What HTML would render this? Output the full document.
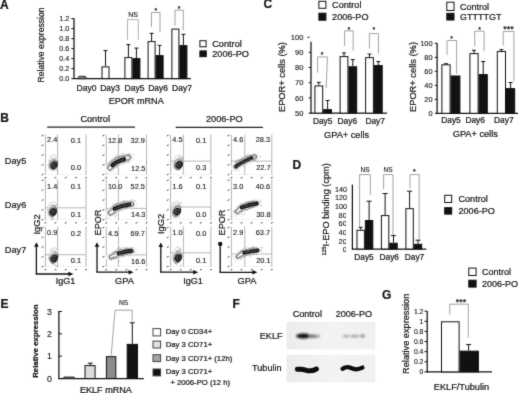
<!DOCTYPE html>
<html><head><meta charset="utf-8"><title>Figure</title>
<style>
html,body{margin:0;padding:0;background:#fff;}
body{width:520px;height:393px;overflow:hidden;font-family:"Liberation Sans", sans-serif;}
svg{display:block;}
text{stroke:#161616;stroke-width:0.22px;}
text.t{stroke-width:0.12px;}
</style></head><body>
<svg width="520" height="393" viewBox="0 0 520 393" font-family='"Liberation Sans", sans-serif'>
<defs><filter id="soft" x="0" y="0" width="520" height="393" filterUnits="userSpaceOnUse" color-interpolation-filters="sRGB"><feConvolveMatrix order="3" kernelMatrix="0.02 0.08 0.02 0.08 0.6 0.08 0.02 0.08 0.02" edgeMode="duplicate" preserveAlpha="false"/></filter></defs>
<rect width="520" height="393" fill="#fff"/>
<g filter="url(#soft)">
<text x="0" y="8.7" font-size="12" text-anchor="start" font-weight="bold" fill="#161616">A</text>
<line x1="74" y1="18.3" x2="74" y2="79.1" stroke="#111" stroke-width="1.25"/>
<line x1="73.5" y1="78.6" x2="191" y2="78.6" stroke="#111" stroke-width="1.25"/>
<line x1="71.3" y1="78.6" x2="74" y2="78.6" stroke="#111" stroke-width="1"/>
<text x="69.2" y="81.2" font-size="7.2" text-anchor="end" fill="#161616" class="t">0.0</text>
<line x1="71.3" y1="68.6" x2="74" y2="68.6" stroke="#111" stroke-width="1"/>
<text x="69.2" y="71.2" font-size="7.2" text-anchor="end" fill="#161616" class="t">0.2</text>
<line x1="71.3" y1="58.6" x2="74" y2="58.6" stroke="#111" stroke-width="1"/>
<text x="69.2" y="61.2" font-size="7.2" text-anchor="end" fill="#161616" class="t">0.4</text>
<line x1="71.3" y1="48.6" x2="74" y2="48.6" stroke="#111" stroke-width="1"/>
<text x="69.2" y="51.2" font-size="7.2" text-anchor="end" fill="#161616" class="t">0.6</text>
<line x1="71.3" y1="38.6" x2="74" y2="38.6" stroke="#111" stroke-width="1"/>
<text x="69.2" y="41.2" font-size="7.2" text-anchor="end" fill="#161616" class="t">0.8</text>
<line x1="71.3" y1="28.6" x2="74" y2="28.6" stroke="#111" stroke-width="1"/>
<text x="69.2" y="31.2" font-size="7.2" text-anchor="end" fill="#161616" class="t">1.0</text>
<line x1="71.3" y1="18.6" x2="74" y2="18.6" stroke="#111" stroke-width="1"/>
<text x="69.2" y="21.2" font-size="7.2" text-anchor="end" fill="#161616" class="t">1.2</text>
<text x="44.1" y="45" font-size="8.6" text-anchor="middle" fill="#161616" transform="rotate(-90 44.1 45)">Relative expression</text>
<rect x="78.4" y="76.3" width="7.6" height="2.4" fill="#8a8a8a" stroke="#1a1a1a" stroke-width="0.9" rx="1"/>
<rect x="102" y="66.85" width="7" height="11.75" fill="#fff" stroke="#111" stroke-width="1"/>
<line x1="105.5" y1="66.35" x2="105.5" y2="50.6" stroke="#111" stroke-width="1"/>
<line x1="103.5" y1="50.6" x2="107.5" y2="50.6" stroke="#111" stroke-width="1"/>
<rect x="124.9" y="57.6" width="7" height="21" fill="#fff" stroke="#111" stroke-width="1"/>
<line x1="128.4" y1="57.1" x2="128.4" y2="44.6" stroke="#111" stroke-width="1"/>
<line x1="126.4" y1="44.6" x2="130.4" y2="44.6" stroke="#111" stroke-width="1"/>
<rect x="132.9" y="58.6" width="7" height="20" fill="#111" stroke="#111" stroke-width="1"/>
<line x1="136.4" y1="58.1" x2="136.4" y2="48.1" stroke="#111" stroke-width="1"/>
<line x1="134.4" y1="48.1" x2="138.4" y2="48.1" stroke="#111" stroke-width="1"/>
<rect x="148.1" y="41.6" width="7" height="37" fill="#fff" stroke="#111" stroke-width="1"/>
<line x1="151.6" y1="41.1" x2="151.6" y2="33.35" stroke="#111" stroke-width="1"/>
<line x1="149.6" y1="33.35" x2="153.6" y2="33.35" stroke="#111" stroke-width="1"/>
<rect x="156.1" y="55.6" width="7" height="23" fill="#111" stroke="#111" stroke-width="1"/>
<line x1="159.6" y1="55.1" x2="159.6" y2="45.35" stroke="#111" stroke-width="1"/>
<line x1="157.6" y1="45.35" x2="161.6" y2="45.35" stroke="#111" stroke-width="1"/>
<rect x="171.9" y="29.1" width="7" height="49.5" fill="#fff" stroke="#111" stroke-width="1"/>
<rect x="179.9" y="45.6" width="7" height="33" fill="#111" stroke="#111" stroke-width="1"/>
<line x1="183.4" y1="45.1" x2="183.4" y2="34.35" stroke="#111" stroke-width="1"/>
<line x1="181.4" y1="34.35" x2="185.4" y2="34.35" stroke="#111" stroke-width="1"/>
<polyline points="127.5,39.7 127.5,19.6 138.3,19.6 138.3,39.7" stroke="#9a9a9a" stroke-width="0.8" fill="none"/>
<text x="133" y="16.9" font-size="7" text-anchor="middle" fill="#161616" class="t">NS</text>
<polyline points="151.5,27 151.5,12.5 160,12.5 160,32" stroke="#8a8a8a" stroke-width="0.8" fill="none"/>
<text x="155.8" y="12.85" font-size="7" text-anchor="middle" fill="#161616">*</text>
<polyline points="175,25.6 175,10.1 183.3,10.1 183.3,30.3" stroke="#8a8a8a" stroke-width="0.8" fill="none"/>
<text x="179" y="10.85" font-size="7" text-anchor="middle" fill="#161616">*</text>
<text x="86.5" y="91.3" font-size="8.5" text-anchor="middle" fill="#161616">Day0</text>
<text x="110.1" y="91.3" font-size="8.5" text-anchor="middle" fill="#161616">Day3</text>
<text x="134.5" y="91.3" font-size="8.5" text-anchor="middle" fill="#161616">Day5</text>
<text x="158.1" y="91.3" font-size="8.5" text-anchor="middle" fill="#161616">Day6</text>
<text x="182" y="91.3" font-size="8.5" text-anchor="middle" fill="#161616">Day7</text>
<text x="136.2" y="104.2" font-size="9.1" text-anchor="middle" fill="#161616">EPOR mRNA</text>
<rect x="199.9" y="40.7" width="6.2" height="6.1" fill="#fff" stroke="#111" stroke-width="1"/>
<text x="212.2" y="46.6" font-size="9.2" text-anchor="start" fill="#161616">Control</text>
<rect x="199.9" y="50.9" width="6.4" height="5.8" fill="#111" stroke="#111" stroke-width="1"/>
<text x="212.2" y="56.8" font-size="9.2" text-anchor="start" fill="#161616">2006-PO</text>
<text x="263.6" y="8.4" font-size="12" text-anchor="start" font-weight="bold" fill="#161616">C</text>
<line x1="311" y1="41.8" x2="311" y2="113.6" stroke="#111" stroke-width="1.25"/>
<line x1="310.5" y1="113.1" x2="387" y2="113.1" stroke="#111" stroke-width="1.25"/>
<line x1="307.4" y1="37.2" x2="309.6" y2="37.2" stroke="#111" stroke-width="1"/>
<line x1="308.6" y1="113.1" x2="311" y2="113.1" stroke="#111" stroke-width="1"/>
<text x="303.4" y="115.8" font-size="7.6" text-anchor="end" fill="#161616" class="t">50</text>
<line x1="308.6" y1="97.9" x2="311" y2="97.9" stroke="#111" stroke-width="1"/>
<text x="303.4" y="100.6" font-size="7.6" text-anchor="end" fill="#161616" class="t">60</text>
<line x1="308.6" y1="82.7" x2="311" y2="82.7" stroke="#111" stroke-width="1"/>
<text x="303.4" y="85.4" font-size="7.6" text-anchor="end" fill="#161616" class="t">70</text>
<line x1="308.6" y1="67.5" x2="311" y2="67.5" stroke="#111" stroke-width="1"/>
<text x="303.4" y="70.2" font-size="7.6" text-anchor="end" fill="#161616" class="t">80</text>
<line x1="308.6" y1="52.3" x2="311" y2="52.3" stroke="#111" stroke-width="1"/>
<text x="303.4" y="55" font-size="7.6" text-anchor="end" fill="#161616" class="t">90</text>
<text x="303.4" y="39.8" font-size="7.6" text-anchor="end" fill="#161616" class="t">100</text>
<text x="284.7" y="77.05" font-size="9.3" text-anchor="middle" fill="#161616" transform="rotate(-90 284.7 77.05)">EPOR+ cells (%)</text>
<rect x="314.9" y="85.94" width="7.8" height="27.16" fill="#fff" stroke="#111" stroke-width="1"/>
<line x1="318.8" y1="85.44" x2="318.8" y2="82.4" stroke="#111" stroke-width="1"/>
<line x1="316.8" y1="82.4" x2="320.8" y2="82.4" stroke="#111" stroke-width="1"/>
<rect x="323.7" y="109.65" width="7.8" height="3.45" fill="#111" stroke="#111" stroke-width="1"/>
<line x1="327.6" y1="109.15" x2="327.6" y2="100.48" stroke="#111" stroke-width="1"/>
<line x1="325.6" y1="100.48" x2="329.6" y2="100.48" stroke="#111" stroke-width="1"/>
<rect x="340.1" y="56.6" width="7.8" height="56.5" fill="#fff" stroke="#111" stroke-width="1"/>
<line x1="344" y1="56.1" x2="344" y2="52.91" stroke="#111" stroke-width="1"/>
<line x1="342" y1="52.91" x2="346" y2="52.91" stroke="#111" stroke-width="1"/>
<rect x="348.9" y="66.78" width="7.8" height="46.32" fill="#111" stroke="#111" stroke-width="1"/>
<line x1="352.8" y1="66.28" x2="352.8" y2="59.6" stroke="#111" stroke-width="1"/>
<line x1="350.8" y1="59.6" x2="354.8" y2="59.6" stroke="#111" stroke-width="1"/>
<rect x="365.6" y="57.66" width="7.8" height="55.44" fill="#fff" stroke="#111" stroke-width="1"/>
<line x1="369.5" y1="57.16" x2="369.5" y2="54.12" stroke="#111" stroke-width="1"/>
<line x1="367.5" y1="54.12" x2="371.5" y2="54.12" stroke="#111" stroke-width="1"/>
<rect x="374.4" y="65.57" width="7.8" height="47.53" fill="#111" stroke="#111" stroke-width="1"/>
<line x1="378.3" y1="65.07" x2="378.3" y2="61.57" stroke="#111" stroke-width="1"/>
<line x1="376.3" y1="61.57" x2="380.3" y2="61.57" stroke="#111" stroke-width="1"/>
<polyline points="317.6,72.6 317.6,56.9 327.4,56.9 326.2,88" stroke="#8a8a8a" stroke-width="0.8" fill="none"/>
<text x="322.2" y="57.15" font-size="7" text-anchor="middle" fill="#161616">*</text>
<polyline points="344.6,45.9 344.6,30.9 353.2,30.9 353.2,50.8" stroke="#8a8a8a" stroke-width="0.8" fill="none"/>
<text x="348.8" y="31.65" font-size="7" text-anchor="middle" fill="#161616">*</text>
<polyline points="369.4,48.7 369.4,33.6 378.4,33.6 378.4,53.6" stroke="#8a8a8a" stroke-width="0.8" fill="none"/>
<text x="373.9" y="31.65" font-size="7" text-anchor="middle" fill="#161616">*</text>
<text x="322.7" y="124.1" font-size="8.4" text-anchor="middle" fill="#161616">Day5</text>
<text x="347.3" y="124.1" font-size="8.4" text-anchor="middle" fill="#161616">Day6</text>
<text x="375.2" y="124.1" font-size="8.4" text-anchor="middle" fill="#161616">Day7</text>
<text x="346.6" y="137.5" font-size="9.2" text-anchor="middle" fill="#161616">GPA+ cells</text>
<rect x="318.9" y="1.3" width="7" height="7" fill="#fff" stroke="#111" stroke-width="1"/>
<text x="332.1" y="7.8" font-size="9.1" text-anchor="start" fill="#161616">Control</text>
<rect x="318.9" y="13.2" width="7" height="7" fill="#111" stroke="#111" stroke-width="1"/>
<text x="332.1" y="19.6" font-size="9.1" text-anchor="start" fill="#161616">2006-PO</text>
<line x1="437.1" y1="43" x2="437.1" y2="113.8" stroke="#111" stroke-width="1.25"/>
<line x1="436.6" y1="113.3" x2="518" y2="113.3" stroke="#111" stroke-width="1.25"/>
<line x1="434.8" y1="113.3" x2="437.1" y2="113.3" stroke="#111" stroke-width="1"/>
<text x="432.6" y="115.8" font-size="7.4" text-anchor="end" fill="#161616" class="t">0</text>
<line x1="434.8" y1="99.3" x2="437.1" y2="99.3" stroke="#111" stroke-width="1"/>
<text x="432.6" y="101.8" font-size="7.4" text-anchor="end" fill="#161616" class="t">20</text>
<line x1="434.8" y1="85.3" x2="437.1" y2="85.3" stroke="#111" stroke-width="1"/>
<text x="432.6" y="87.8" font-size="7.4" text-anchor="end" fill="#161616" class="t">40</text>
<line x1="434.8" y1="71.3" x2="437.1" y2="71.3" stroke="#111" stroke-width="1"/>
<text x="432.6" y="73.8" font-size="7.4" text-anchor="end" fill="#161616" class="t">60</text>
<line x1="434.8" y1="57.3" x2="437.1" y2="57.3" stroke="#111" stroke-width="1"/>
<text x="432.6" y="59.8" font-size="7.4" text-anchor="end" fill="#161616" class="t">80</text>
<line x1="434.8" y1="43.3" x2="437.1" y2="43.3" stroke="#111" stroke-width="1"/>
<text x="432.6" y="45.8" font-size="7.4" text-anchor="end" fill="#161616" class="t">100</text>
<text x="415.7" y="77" font-size="9.3" text-anchor="middle" fill="#161616" transform="rotate(-90 415.7 77)">EPOR+ cells (%)</text>
<rect x="441.9" y="64.8" width="8.2" height="48.5" fill="#fff" stroke="#111" stroke-width="1"/>
<line x1="446" y1="64.3" x2="446" y2="63.74" stroke="#111" stroke-width="1"/>
<line x1="444" y1="63.74" x2="448" y2="63.74" stroke="#111" stroke-width="1"/>
<rect x="451.1" y="76" width="8.8" height="37.3" fill="#111" stroke="#111" stroke-width="1"/>
<rect x="469.9" y="53.6" width="8.2" height="59.7" fill="#fff" stroke="#111" stroke-width="1"/>
<line x1="474" y1="53.1" x2="474" y2="50.3" stroke="#111" stroke-width="1"/>
<line x1="472" y1="50.3" x2="476" y2="50.3" stroke="#111" stroke-width="1"/>
<rect x="479.1" y="74.6" width="8.2" height="38.7" fill="#111" stroke="#111" stroke-width="1"/>
<line x1="483.2" y1="74.1" x2="483.2" y2="61.5" stroke="#111" stroke-width="1"/>
<line x1="481.2" y1="61.5" x2="485.2" y2="61.5" stroke="#111" stroke-width="1"/>
<rect x="497.3" y="51.5" width="8.2" height="61.8" fill="#fff" stroke="#111" stroke-width="1"/>
<line x1="501.4" y1="51" x2="501.4" y2="49.6" stroke="#111" stroke-width="1"/>
<line x1="499.4" y1="49.6" x2="503.4" y2="49.6" stroke="#111" stroke-width="1"/>
<rect x="506.5" y="88.6" width="8.2" height="24.7" fill="#111" stroke="#111" stroke-width="1"/>
<line x1="510.6" y1="88.1" x2="510.6" y2="82.5" stroke="#111" stroke-width="1"/>
<line x1="508.6" y1="82.5" x2="512.6" y2="82.5" stroke="#111" stroke-width="1"/>
<polyline points="447,55 447,40.5 456.6,40.5 456.6,74" stroke="#8a8a8a" stroke-width="0.8" fill="none"/>
<text x="451.7" y="41.05" font-size="7" text-anchor="middle" fill="#161616">*</text>
<polyline points="474.7,46.2 474.7,31.2 484.1,31.2 484.1,51.2" stroke="#8a8a8a" stroke-width="0.8" fill="none"/>
<text x="479.6" y="32.15" font-size="7" text-anchor="middle" fill="#161616">*</text>
<polyline points="503.2,45.6 503.2,31.5 513.9,31.5 513.9,81.4" stroke="#8a8a8a" stroke-width="0.8" fill="none"/>
<text x="508.4" y="32.2" font-size="9" text-anchor="middle" fill="#161616">***</text>
<text x="451" y="123.3" font-size="8.4" text-anchor="middle" fill="#161616">Day5</text>
<text x="475.2" y="123.3" font-size="8.4" text-anchor="middle" fill="#161616">Day6</text>
<text x="503.8" y="123.3" font-size="8.4" text-anchor="middle" fill="#161616">Day7</text>
<text x="475.3" y="137.3" font-size="9.2" text-anchor="middle" fill="#161616">GPA+ cells</text>
<rect x="446.8" y="2.2" width="7.2" height="8.3" fill="#fff" stroke="#111" stroke-width="1"/>
<text x="460" y="10.2" font-size="9" text-anchor="start" fill="#161616">Control</text>
<rect x="446.8" y="13.3" width="7.2" height="6.7" fill="#111" stroke="#111" stroke-width="1"/>
<text x="460" y="20" font-size="9" text-anchor="start" fill="#161616">GTTTTGT</text>
<text x="0.3" y="122.2" font-size="12" text-anchor="start" font-weight="bold" fill="#161616">B</text>
<text x="95.2" y="121.6" font-size="9.2" text-anchor="middle" fill="#161616">Control</text>
<line x1="47.2" y1="127.2" x2="135" y2="127.2" stroke="#222" stroke-width="1.2"/>
<text x="224.3" y="121.8" font-size="9.2" text-anchor="middle" fill="#161616">2006-PO</text>
<line x1="175.7" y1="127.3" x2="263" y2="127.3" stroke="#222" stroke-width="1.2"/>
<text x="4.8" y="163.6" font-size="9.2" text-anchor="start" fill="#161616">Day5</text>
<text x="4.8" y="207.7" font-size="9.2" text-anchor="start" fill="#161616">Day6</text>
<text x="4.8" y="252.5" font-size="9.2" text-anchor="start" fill="#161616">Day7</text>
<line x1="45.4" y1="134.5" x2="45.4" y2="175" stroke="#a8a8a8" stroke-width="0.85"/>
<line x1="57.6" y1="134.5" x2="57.6" y2="175" stroke="#a8a8a8" stroke-width="0.85"/>
<line x1="86" y1="134.5" x2="86" y2="175" stroke="#a8a8a8" stroke-width="0.85"/>
<line x1="45.4" y1="174.5" x2="86" y2="174.5" stroke="#cfcfcf" stroke-width="0.6" stroke-dasharray="1 1.5"/>
<line x1="41.6" y1="136" x2="43.4" y2="135.2" stroke="#444" stroke-width="1"/>
<line x1="41.6" y1="145.75" x2="43.4" y2="144.95" stroke="#444" stroke-width="1"/>
<line x1="41.6" y1="155.5" x2="43.4" y2="154.7" stroke="#444" stroke-width="1"/>
<line x1="41.6" y1="165.25" x2="43.4" y2="164.45" stroke="#444" stroke-width="1"/>
<line x1="41.6" y1="175" x2="43.4" y2="174.2" stroke="#444" stroke-width="1"/>
<line x1="44.5" y1="178" x2="46.3" y2="177.3" stroke="#444" stroke-width="1"/>
<line x1="54.65" y1="178" x2="56.45" y2="177.3" stroke="#444" stroke-width="1"/>
<line x1="64.8" y1="178" x2="66.6" y2="177.3" stroke="#444" stroke-width="1"/>
<line x1="74.95" y1="178" x2="76.75" y2="177.3" stroke="#444" stroke-width="1"/>
<line x1="85.1" y1="178" x2="86.9" y2="177.3" stroke="#444" stroke-width="1"/>
<text x="47.1" y="142.3" font-size="7.4" text-anchor="start" fill="#161616" class="t">2.4</text>
<text x="70.8" y="143.2" font-size="7.4" text-anchor="start" fill="#161616" class="t">0.1</text>
<text x="70.8" y="170.4" font-size="7.4" text-anchor="start" fill="#161616" class="t">0.0</text>
<line x1="106.3" y1="134.5" x2="106.3" y2="175" stroke="#a8a8a8" stroke-width="0.85"/>
<line x1="118.4" y1="134.5" x2="118.4" y2="175" stroke="#a8a8a8" stroke-width="0.85"/>
<line x1="146.5" y1="134.5" x2="146.5" y2="175" stroke="#a8a8a8" stroke-width="0.85"/>
<line x1="106.3" y1="174.5" x2="146.5" y2="174.5" stroke="#cfcfcf" stroke-width="0.6" stroke-dasharray="1 1.5"/>
<line x1="102.5" y1="136" x2="104.3" y2="135.2" stroke="#444" stroke-width="1"/>
<line x1="102.5" y1="145.75" x2="104.3" y2="144.95" stroke="#444" stroke-width="1"/>
<line x1="102.5" y1="155.5" x2="104.3" y2="154.7" stroke="#444" stroke-width="1"/>
<line x1="102.5" y1="165.25" x2="104.3" y2="164.45" stroke="#444" stroke-width="1"/>
<line x1="102.5" y1="175" x2="104.3" y2="174.2" stroke="#444" stroke-width="1"/>
<line x1="105.4" y1="178" x2="107.2" y2="177.3" stroke="#444" stroke-width="1"/>
<line x1="115.45" y1="178" x2="117.25" y2="177.3" stroke="#444" stroke-width="1"/>
<line x1="125.5" y1="178" x2="127.3" y2="177.3" stroke="#444" stroke-width="1"/>
<line x1="135.55" y1="178" x2="137.35" y2="177.3" stroke="#444" stroke-width="1"/>
<line x1="145.6" y1="178" x2="147.4" y2="177.3" stroke="#444" stroke-width="1"/>
<text x="108" y="143.1" font-size="7.4" text-anchor="start" fill="#161616" class="t">12.8</text>
<text x="130.6" y="143.1" font-size="7.4" text-anchor="start" fill="#161616" class="t">32.9</text>
<text x="131.1" y="171.2" font-size="7.4" text-anchor="start" fill="#161616" class="t">12.5</text>
<line x1="170.6" y1="134.5" x2="170.6" y2="175" stroke="#a8a8a8" stroke-width="0.85"/>
<line x1="183.4" y1="134.5" x2="183.4" y2="175" stroke="#a8a8a8" stroke-width="0.85"/>
<line x1="210.9" y1="134.5" x2="210.9" y2="175" stroke="#a8a8a8" stroke-width="0.85"/>
<line x1="170.6" y1="174.5" x2="210.9" y2="174.5" stroke="#cfcfcf" stroke-width="0.6" stroke-dasharray="1 1.5"/>
<line x1="170.6" y1="161.1" x2="210.9" y2="161.1" stroke="#a8a8a8" stroke-width="0.85"/>
<line x1="166.8" y1="136" x2="168.6" y2="135.2" stroke="#444" stroke-width="1"/>
<line x1="166.8" y1="145.75" x2="168.6" y2="144.95" stroke="#444" stroke-width="1"/>
<line x1="166.8" y1="155.5" x2="168.6" y2="154.7" stroke="#444" stroke-width="1"/>
<line x1="166.8" y1="165.25" x2="168.6" y2="164.45" stroke="#444" stroke-width="1"/>
<line x1="166.8" y1="175" x2="168.6" y2="174.2" stroke="#444" stroke-width="1"/>
<line x1="169.7" y1="178" x2="171.5" y2="177.3" stroke="#444" stroke-width="1"/>
<line x1="179.78" y1="178" x2="181.58" y2="177.3" stroke="#444" stroke-width="1"/>
<line x1="189.85" y1="178" x2="191.65" y2="177.3" stroke="#444" stroke-width="1"/>
<line x1="199.92" y1="178" x2="201.72" y2="177.3" stroke="#444" stroke-width="1"/>
<line x1="210" y1="178" x2="211.8" y2="177.3" stroke="#444" stroke-width="1"/>
<text x="172.3" y="142.3" font-size="7.4" text-anchor="start" fill="#161616" class="t">4.5</text>
<text x="196" y="143.2" font-size="7.4" text-anchor="start" fill="#161616" class="t">0.1</text>
<text x="196" y="170.4" font-size="7.4" text-anchor="start" fill="#161616" class="t">0.3</text>
<line x1="231.4" y1="134.5" x2="231.4" y2="175" stroke="#a8a8a8" stroke-width="0.85"/>
<line x1="244.8" y1="134.5" x2="244.8" y2="175" stroke="#a8a8a8" stroke-width="0.85"/>
<line x1="271.8" y1="134.5" x2="271.8" y2="175" stroke="#a8a8a8" stroke-width="0.85"/>
<line x1="231.4" y1="174.5" x2="271.8" y2="174.5" stroke="#cfcfcf" stroke-width="0.6" stroke-dasharray="1 1.5"/>
<line x1="231.4" y1="161.1" x2="271.8" y2="161.1" stroke="#a8a8a8" stroke-width="0.85"/>
<line x1="227.6" y1="136" x2="229.4" y2="135.2" stroke="#444" stroke-width="1"/>
<line x1="227.6" y1="145.75" x2="229.4" y2="144.95" stroke="#444" stroke-width="1"/>
<line x1="227.6" y1="155.5" x2="229.4" y2="154.7" stroke="#444" stroke-width="1"/>
<line x1="227.6" y1="165.25" x2="229.4" y2="164.45" stroke="#444" stroke-width="1"/>
<line x1="227.6" y1="175" x2="229.4" y2="174.2" stroke="#444" stroke-width="1"/>
<line x1="230.5" y1="178" x2="232.3" y2="177.3" stroke="#444" stroke-width="1"/>
<line x1="240.6" y1="178" x2="242.4" y2="177.3" stroke="#444" stroke-width="1"/>
<line x1="250.7" y1="178" x2="252.5" y2="177.3" stroke="#444" stroke-width="1"/>
<line x1="260.8" y1="178" x2="262.6" y2="177.3" stroke="#444" stroke-width="1"/>
<line x1="270.9" y1="178" x2="272.7" y2="177.3" stroke="#444" stroke-width="1"/>
<text x="233.1" y="142.3" font-size="7.4" text-anchor="start" fill="#161616" class="t">4.6</text>
<text x="255.7" y="142.3" font-size="7.4" text-anchor="start" fill="#161616" class="t">28.3</text>
<text x="256.2" y="170.4" font-size="7.4" text-anchor="start" fill="#161616" class="t">22.7</text>
<line x1="45.4" y1="179.2" x2="45.4" y2="220.2" stroke="#a8a8a8" stroke-width="0.85"/>
<line x1="57.6" y1="179.2" x2="57.6" y2="220.2" stroke="#a8a8a8" stroke-width="0.85"/>
<line x1="86" y1="179.2" x2="86" y2="220.2" stroke="#a8a8a8" stroke-width="0.85"/>
<line x1="45.4" y1="219.7" x2="86" y2="219.7" stroke="#cfcfcf" stroke-width="0.6" stroke-dasharray="1 1.5"/>
<line x1="45.4" y1="207.8" x2="86" y2="207.8" stroke="#a8a8a8" stroke-width="0.85"/>
<line x1="41.6" y1="180.7" x2="43.4" y2="179.9" stroke="#444" stroke-width="1"/>
<line x1="41.6" y1="190.57" x2="43.4" y2="189.77" stroke="#444" stroke-width="1"/>
<line x1="41.6" y1="200.45" x2="43.4" y2="199.65" stroke="#444" stroke-width="1"/>
<line x1="41.6" y1="210.32" x2="43.4" y2="209.52" stroke="#444" stroke-width="1"/>
<line x1="41.6" y1="220.2" x2="43.4" y2="219.4" stroke="#444" stroke-width="1"/>
<line x1="44.5" y1="223.2" x2="46.3" y2="222.5" stroke="#444" stroke-width="1"/>
<line x1="54.65" y1="223.2" x2="56.45" y2="222.5" stroke="#444" stroke-width="1"/>
<line x1="64.8" y1="223.2" x2="66.6" y2="222.5" stroke="#444" stroke-width="1"/>
<line x1="74.95" y1="223.2" x2="76.75" y2="222.5" stroke="#444" stroke-width="1"/>
<line x1="85.1" y1="223.2" x2="86.9" y2="222.5" stroke="#444" stroke-width="1"/>
<text x="47.1" y="188.5" font-size="7.4" text-anchor="start" fill="#161616" class="t">1.4</text>
<text x="70.8" y="189.4" font-size="7.4" text-anchor="start" fill="#161616" class="t">0.1</text>
<text x="70.8" y="216.6" font-size="7.4" text-anchor="start" fill="#161616" class="t">0.1</text>
<line x1="106.3" y1="179.2" x2="106.3" y2="220.2" stroke="#a8a8a8" stroke-width="0.85"/>
<line x1="118.4" y1="179.2" x2="118.4" y2="220.2" stroke="#a8a8a8" stroke-width="0.85"/>
<line x1="146.5" y1="179.2" x2="146.5" y2="220.2" stroke="#a8a8a8" stroke-width="0.85"/>
<line x1="106.3" y1="219.7" x2="146.5" y2="219.7" stroke="#cfcfcf" stroke-width="0.6" stroke-dasharray="1 1.5"/>
<line x1="106.3" y1="208.4" x2="146.5" y2="208.4" stroke="#a8a8a8" stroke-width="0.85"/>
<line x1="102.5" y1="180.7" x2="104.3" y2="179.9" stroke="#444" stroke-width="1"/>
<line x1="102.5" y1="190.57" x2="104.3" y2="189.77" stroke="#444" stroke-width="1"/>
<line x1="102.5" y1="200.45" x2="104.3" y2="199.65" stroke="#444" stroke-width="1"/>
<line x1="102.5" y1="210.32" x2="104.3" y2="209.52" stroke="#444" stroke-width="1"/>
<line x1="102.5" y1="220.2" x2="104.3" y2="219.4" stroke="#444" stroke-width="1"/>
<line x1="105.4" y1="223.2" x2="107.2" y2="222.5" stroke="#444" stroke-width="1"/>
<line x1="115.45" y1="223.2" x2="117.25" y2="222.5" stroke="#444" stroke-width="1"/>
<line x1="125.5" y1="223.2" x2="127.3" y2="222.5" stroke="#444" stroke-width="1"/>
<line x1="135.55" y1="223.2" x2="137.35" y2="222.5" stroke="#444" stroke-width="1"/>
<line x1="145.6" y1="223.2" x2="147.4" y2="222.5" stroke="#444" stroke-width="1"/>
<text x="108" y="189.3" font-size="7.4" text-anchor="start" fill="#161616" class="t">10.0</text>
<text x="130.6" y="189.3" font-size="7.4" text-anchor="start" fill="#161616" class="t">52.5</text>
<text x="131.1" y="217.4" font-size="7.4" text-anchor="start" fill="#161616" class="t">14.3</text>
<line x1="170.6" y1="179.2" x2="170.6" y2="220.2" stroke="#a8a8a8" stroke-width="0.85"/>
<line x1="210.9" y1="179.2" x2="210.9" y2="220.2" stroke="#a8a8a8" stroke-width="0.85"/>
<line x1="170.6" y1="219.7" x2="210.9" y2="219.7" stroke="#cfcfcf" stroke-width="0.6" stroke-dasharray="1 1.5"/>
<line x1="170.6" y1="207" x2="210.9" y2="207" stroke="#a8a8a8" stroke-width="0.85"/>
<line x1="166.8" y1="180.7" x2="168.6" y2="179.9" stroke="#444" stroke-width="1"/>
<line x1="166.8" y1="190.57" x2="168.6" y2="189.77" stroke="#444" stroke-width="1"/>
<line x1="166.8" y1="200.45" x2="168.6" y2="199.65" stroke="#444" stroke-width="1"/>
<line x1="166.8" y1="210.32" x2="168.6" y2="209.52" stroke="#444" stroke-width="1"/>
<line x1="166.8" y1="220.2" x2="168.6" y2="219.4" stroke="#444" stroke-width="1"/>
<line x1="169.7" y1="223.2" x2="171.5" y2="222.5" stroke="#444" stroke-width="1"/>
<line x1="179.78" y1="223.2" x2="181.58" y2="222.5" stroke="#444" stroke-width="1"/>
<line x1="189.85" y1="223.2" x2="191.65" y2="222.5" stroke="#444" stroke-width="1"/>
<line x1="199.92" y1="223.2" x2="201.72" y2="222.5" stroke="#444" stroke-width="1"/>
<line x1="210" y1="223.2" x2="211.8" y2="222.5" stroke="#444" stroke-width="1"/>
<text x="172.3" y="188.5" font-size="7.4" text-anchor="start" fill="#161616" class="t">1.6</text>
<text x="196" y="189.4" font-size="7.4" text-anchor="start" fill="#161616" class="t">0.1</text>
<text x="196" y="216.6" font-size="7.4" text-anchor="start" fill="#161616" class="t">0.0</text>
<line x1="231.4" y1="179.2" x2="231.4" y2="220.2" stroke="#a8a8a8" stroke-width="0.85"/>
<line x1="271.8" y1="179.2" x2="271.8" y2="220.2" stroke="#a8a8a8" stroke-width="0.85"/>
<line x1="231.4" y1="219.7" x2="271.8" y2="219.7" stroke="#cfcfcf" stroke-width="0.6" stroke-dasharray="1 1.5"/>
<line x1="227.6" y1="180.7" x2="229.4" y2="179.9" stroke="#444" stroke-width="1"/>
<line x1="227.6" y1="190.57" x2="229.4" y2="189.77" stroke="#444" stroke-width="1"/>
<line x1="227.6" y1="200.45" x2="229.4" y2="199.65" stroke="#444" stroke-width="1"/>
<line x1="227.6" y1="210.32" x2="229.4" y2="209.52" stroke="#444" stroke-width="1"/>
<line x1="227.6" y1="220.2" x2="229.4" y2="219.4" stroke="#444" stroke-width="1"/>
<line x1="230.5" y1="223.2" x2="232.3" y2="222.5" stroke="#444" stroke-width="1"/>
<line x1="240.6" y1="223.2" x2="242.4" y2="222.5" stroke="#444" stroke-width="1"/>
<line x1="250.7" y1="223.2" x2="252.5" y2="222.5" stroke="#444" stroke-width="1"/>
<line x1="260.8" y1="223.2" x2="262.6" y2="222.5" stroke="#444" stroke-width="1"/>
<line x1="270.9" y1="223.2" x2="272.7" y2="222.5" stroke="#444" stroke-width="1"/>
<text x="233.1" y="188.5" font-size="7.4" text-anchor="start" fill="#161616" class="t">3.0</text>
<text x="255.7" y="188.5" font-size="7.4" text-anchor="start" fill="#161616" class="t">40.6</text>
<text x="256.2" y="216.6" font-size="7.4" text-anchor="start" fill="#161616" class="t">30.8</text>
<line x1="45.4" y1="226.5" x2="45.4" y2="267" stroke="#a8a8a8" stroke-width="0.85"/>
<line x1="57.6" y1="226.5" x2="57.6" y2="267" stroke="#a8a8a8" stroke-width="0.85"/>
<line x1="86" y1="226.5" x2="86" y2="267" stroke="#a8a8a8" stroke-width="0.85"/>
<line x1="45.4" y1="266.5" x2="86" y2="266.5" stroke="#cfcfcf" stroke-width="0.6" stroke-dasharray="1 1.5"/>
<line x1="45.4" y1="254.7" x2="86" y2="254.7" stroke="#a8a8a8" stroke-width="0.85"/>
<line x1="41.6" y1="228" x2="43.4" y2="227.2" stroke="#444" stroke-width="1"/>
<line x1="41.6" y1="237.75" x2="43.4" y2="236.95" stroke="#444" stroke-width="1"/>
<line x1="41.6" y1="247.5" x2="43.4" y2="246.7" stroke="#444" stroke-width="1"/>
<line x1="41.6" y1="257.25" x2="43.4" y2="256.45" stroke="#444" stroke-width="1"/>
<line x1="41.6" y1="267" x2="43.4" y2="266.2" stroke="#444" stroke-width="1"/>
<line x1="44.5" y1="270" x2="46.3" y2="269.3" stroke="#444" stroke-width="1"/>
<line x1="54.65" y1="270" x2="56.45" y2="269.3" stroke="#444" stroke-width="1"/>
<line x1="64.8" y1="270" x2="66.6" y2="269.3" stroke="#444" stroke-width="1"/>
<line x1="74.95" y1="270" x2="76.75" y2="269.3" stroke="#444" stroke-width="1"/>
<line x1="85.1" y1="270" x2="86.9" y2="269.3" stroke="#444" stroke-width="1"/>
<text x="47.1" y="235" font-size="7.4" text-anchor="start" fill="#161616" class="t">0.9</text>
<text x="70.8" y="235.9" font-size="7.4" text-anchor="start" fill="#161616" class="t">0.2</text>
<text x="70.8" y="263.2" font-size="7.4" text-anchor="start" fill="#161616" class="t">0.1</text>
<line x1="106.3" y1="226.5" x2="106.3" y2="267" stroke="#a8a8a8" stroke-width="0.85"/>
<line x1="118.4" y1="226.5" x2="118.4" y2="267" stroke="#a8a8a8" stroke-width="0.85"/>
<line x1="146.5" y1="226.5" x2="146.5" y2="267" stroke="#a8a8a8" stroke-width="0.85"/>
<line x1="106.3" y1="266.5" x2="146.5" y2="266.5" stroke="#cfcfcf" stroke-width="0.6" stroke-dasharray="1 1.5"/>
<line x1="106.3" y1="254.9" x2="146.5" y2="254.9" stroke="#a8a8a8" stroke-width="0.85"/>
<line x1="102.5" y1="228" x2="104.3" y2="227.2" stroke="#444" stroke-width="1"/>
<line x1="102.5" y1="237.75" x2="104.3" y2="236.95" stroke="#444" stroke-width="1"/>
<line x1="102.5" y1="247.5" x2="104.3" y2="246.7" stroke="#444" stroke-width="1"/>
<line x1="102.5" y1="257.25" x2="104.3" y2="256.45" stroke="#444" stroke-width="1"/>
<line x1="102.5" y1="267" x2="104.3" y2="266.2" stroke="#444" stroke-width="1"/>
<line x1="105.4" y1="270" x2="107.2" y2="269.3" stroke="#444" stroke-width="1"/>
<line x1="115.45" y1="270" x2="117.25" y2="269.3" stroke="#444" stroke-width="1"/>
<line x1="125.5" y1="270" x2="127.3" y2="269.3" stroke="#444" stroke-width="1"/>
<line x1="135.55" y1="270" x2="137.35" y2="269.3" stroke="#444" stroke-width="1"/>
<line x1="145.6" y1="270" x2="147.4" y2="269.3" stroke="#444" stroke-width="1"/>
<text x="108" y="235.8" font-size="7.4" text-anchor="start" fill="#161616" class="t">4.5</text>
<text x="130.6" y="235.8" font-size="7.4" text-anchor="start" fill="#161616" class="t">69.7</text>
<text x="131.1" y="264" font-size="7.4" text-anchor="start" fill="#161616" class="t">16.6</text>
<line x1="170.6" y1="226.5" x2="170.6" y2="267" stroke="#a8a8a8" stroke-width="0.85"/>
<line x1="183.4" y1="226.5" x2="183.4" y2="267" stroke="#a8a8a8" stroke-width="0.85"/>
<line x1="210.9" y1="226.5" x2="210.9" y2="267" stroke="#a8a8a8" stroke-width="0.85"/>
<line x1="170.6" y1="266.5" x2="210.9" y2="266.5" stroke="#cfcfcf" stroke-width="0.6" stroke-dasharray="1 1.5"/>
<line x1="170.6" y1="252.8" x2="210.9" y2="252.8" stroke="#a8a8a8" stroke-width="0.85"/>
<line x1="166.8" y1="228" x2="168.6" y2="227.2" stroke="#444" stroke-width="1"/>
<line x1="166.8" y1="237.75" x2="168.6" y2="236.95" stroke="#444" stroke-width="1"/>
<line x1="166.8" y1="247.5" x2="168.6" y2="246.7" stroke="#444" stroke-width="1"/>
<line x1="166.8" y1="257.25" x2="168.6" y2="256.45" stroke="#444" stroke-width="1"/>
<line x1="166.8" y1="267" x2="168.6" y2="266.2" stroke="#444" stroke-width="1"/>
<line x1="169.7" y1="270" x2="171.5" y2="269.3" stroke="#444" stroke-width="1"/>
<line x1="179.78" y1="270" x2="181.58" y2="269.3" stroke="#444" stroke-width="1"/>
<line x1="189.85" y1="270" x2="191.65" y2="269.3" stroke="#444" stroke-width="1"/>
<line x1="199.92" y1="270" x2="201.72" y2="269.3" stroke="#444" stroke-width="1"/>
<line x1="210" y1="270" x2="211.8" y2="269.3" stroke="#444" stroke-width="1"/>
<text x="172.3" y="235" font-size="7.4" text-anchor="start" fill="#161616" class="t">1.0</text>
<text x="196" y="235.9" font-size="7.4" text-anchor="start" fill="#161616" class="t">0.0</text>
<text x="196" y="263.2" font-size="7.4" text-anchor="start" fill="#161616" class="t">0.1</text>
<line x1="231.4" y1="226.5" x2="231.4" y2="267" stroke="#a8a8a8" stroke-width="0.85"/>
<line x1="244.8" y1="226.5" x2="244.8" y2="267" stroke="#a8a8a8" stroke-width="0.85"/>
<line x1="271.8" y1="226.5" x2="271.8" y2="267" stroke="#a8a8a8" stroke-width="0.85"/>
<line x1="231.4" y1="266.5" x2="271.8" y2="266.5" stroke="#cfcfcf" stroke-width="0.6" stroke-dasharray="1 1.5"/>
<line x1="231.4" y1="254" x2="271.8" y2="254" stroke="#a8a8a8" stroke-width="0.85"/>
<line x1="227.6" y1="228" x2="229.4" y2="227.2" stroke="#444" stroke-width="1"/>
<line x1="227.6" y1="237.75" x2="229.4" y2="236.95" stroke="#444" stroke-width="1"/>
<line x1="227.6" y1="247.5" x2="229.4" y2="246.7" stroke="#444" stroke-width="1"/>
<line x1="227.6" y1="257.25" x2="229.4" y2="256.45" stroke="#444" stroke-width="1"/>
<line x1="227.6" y1="267" x2="229.4" y2="266.2" stroke="#444" stroke-width="1"/>
<line x1="230.5" y1="270" x2="232.3" y2="269.3" stroke="#444" stroke-width="1"/>
<line x1="240.6" y1="270" x2="242.4" y2="269.3" stroke="#444" stroke-width="1"/>
<line x1="250.7" y1="270" x2="252.5" y2="269.3" stroke="#444" stroke-width="1"/>
<line x1="260.8" y1="270" x2="262.6" y2="269.3" stroke="#444" stroke-width="1"/>
<line x1="270.9" y1="270" x2="272.7" y2="269.3" stroke="#444" stroke-width="1"/>
<text x="233.1" y="235" font-size="7.4" text-anchor="start" fill="#161616" class="t">2.9</text>
<text x="255.7" y="235" font-size="7.4" text-anchor="start" fill="#161616" class="t">63.7</text>
<text x="256.2" y="263.2" font-size="7.4" text-anchor="start" fill="#161616" class="t">20.1</text>
<path d="M57.68 163.43 L57.36 166.81 L55.84 169.42 L53.91 170.43 L52.03 171.11 L50.32 170.17 L48.91 168.34 L48.14 165.48 L48.76 162.18 L49.55 159.29 L50.53 156.1 L52.47 154.94 L54.42 154.13 L55.87 155.96 L57.35 157.44 L58.21 160.14 Z" fill="#f3f3f3" stroke="#a8a8a8" stroke-width="0.6" stroke-linejoin="round" stroke-dasharray="1.3 0.7"/>
<path d="M57.08 165.26 L56.44 168 L54.72 169.83 L52.88 169.68 L51.35 169.26 L49.91 168.23 L49.11 166.03 L49.81 163.31 L50.92 161.05 L52.38 159.21 L54.12 158.92 L55.73 159.15 L57.02 160.44 L57.56 162.7 Z" fill="none" stroke="#5a5a5a" stroke-width="0.65" stroke-linejoin="round"/>
<path d="M56.66 166.14 L55.35 167.95 L53.62 168.91 L51.87 168.94 L50.73 167.62 L50.51 165.61 L50.65 163.33 L52.17 161.48 L53.99 160.39 L55.65 160.84 L57.23 161.66 L57.57 163.87 Z" fill="none" stroke="#333" stroke-width="0.7" stroke-linejoin="round"/>
<ellipse cx="54.1" cy="165.1" rx="2.6" ry="3.2" transform="rotate(30 54.1 165.1)" stroke="#111" stroke-width="1.3" fill="#555"/>
<ellipse cx="54.3" cy="165.2" rx="1" ry="1.8" transform="rotate(30 54.3 165.2)" stroke="none" stroke-width="0" fill="#1a1a1a"/>
<rect x="49.89" y="161.46" width="0.8" height="0.8" fill="#7a7a7a" stroke="none" stroke-width="0"/>
<rect x="55.29" y="167.89" width="0.8" height="0.8" fill="#7a7a7a" stroke="none" stroke-width="0"/>
<rect x="57.23" y="162.98" width="0.8" height="0.8" fill="#7a7a7a" stroke="none" stroke-width="0"/>
<rect x="56.27" y="167.2" width="0.8" height="0.8" fill="#7a7a7a" stroke="none" stroke-width="0"/>
<rect x="51.53" y="165.79" width="0.8" height="0.8" fill="#7a7a7a" stroke="none" stroke-width="0"/>
<rect x="56.74" y="170.19" width="0.8" height="0.8" fill="#7a7a7a" stroke="none" stroke-width="0"/>
<rect x="53.35" y="165.81" width="0.8" height="0.8" fill="#7a7a7a" stroke="none" stroke-width="0"/>
<rect x="49.11" y="159.93" width="0.8" height="0.8" fill="#7a7a7a" stroke="none" stroke-width="0"/>
<rect x="55.98" y="162.84" width="0.8" height="0.8" fill="#7a7a7a" stroke="none" stroke-width="0"/>
<rect x="50.36" y="165.13" width="0.8" height="0.8" fill="#7a7a7a" stroke="none" stroke-width="0"/>
<rect x="55.13" y="167.27" width="0.8" height="0.8" fill="#7a7a7a" stroke="none" stroke-width="0"/>
<rect x="52.17" y="163.26" width="0.8" height="0.8" fill="#7a7a7a" stroke="none" stroke-width="0"/>
<path d="M57.5 210.32 L56.63 213.67 L54.75 215.5 L53.09 217.01 L51.17 218.36 L49.39 217.31 L48.1 215.16 L47.71 212.09 L47.57 208.92 L48.39 205.73 L49.83 203.16 L51.7 202.09 L53.56 201.37 L55.25 202.3 L56.74 204 L57.62 206.83 Z" fill="#f3f3f3" stroke="#a8a8a8" stroke-width="0.6" stroke-linejoin="round" stroke-dasharray="1.3 0.7"/>
<path d="M56.77 212.19 L55.44 214.55 L53.82 216.21 L52.05 216.73 L50.54 216.07 L49.44 214.67 L48.66 212.7 L49.06 210.12 L50.04 207.75 L51.49 205.58 L53.38 205.2 L55.08 205.62 L56.09 207.38 L56.42 209.63 Z" fill="none" stroke="#5a5a5a" stroke-width="0.65" stroke-linejoin="round"/>
<path d="M55.91 212.96 L54.52 214.7 L52.81 215.91 L50.9 216.1 L49.73 214.59 L49.62 212.43 L49.82 210.12 L51.31 208.15 L53.2 207.13 L55.07 207.16 L56.31 208.56 L56.73 210.68 Z" fill="none" stroke="#333" stroke-width="0.7" stroke-linejoin="round"/>
<ellipse cx="53.3" cy="211.9" rx="2.6" ry="3.2" transform="rotate(30 53.3 211.9)" stroke="#111" stroke-width="1.3" fill="#555"/>
<ellipse cx="53.5" cy="212" rx="1" ry="1.8" transform="rotate(30 53.5 212)" stroke="none" stroke-width="0" fill="#1a1a1a"/>
<rect x="51.18" y="219.28" width="0.8" height="0.8" fill="#7a7a7a" stroke="none" stroke-width="0"/>
<rect x="56.66" y="205.34" width="0.8" height="0.8" fill="#7a7a7a" stroke="none" stroke-width="0"/>
<rect x="54.79" y="214.76" width="0.8" height="0.8" fill="#7a7a7a" stroke="none" stroke-width="0"/>
<rect x="52.15" y="211.62" width="0.8" height="0.8" fill="#7a7a7a" stroke="none" stroke-width="0"/>
<rect x="52.41" y="218.32" width="0.8" height="0.8" fill="#7a7a7a" stroke="none" stroke-width="0"/>
<rect x="52.51" y="216.74" width="0.8" height="0.8" fill="#7a7a7a" stroke="none" stroke-width="0"/>
<rect x="51.19" y="217.61" width="0.8" height="0.8" fill="#7a7a7a" stroke="none" stroke-width="0"/>
<rect x="56.1" y="210.44" width="0.8" height="0.8" fill="#7a7a7a" stroke="none" stroke-width="0"/>
<rect x="53.11" y="218.25" width="0.8" height="0.8" fill="#7a7a7a" stroke="none" stroke-width="0"/>
<rect x="54.51" y="210.87" width="0.8" height="0.8" fill="#7a7a7a" stroke="none" stroke-width="0"/>
<rect x="50" y="208.12" width="0.8" height="0.8" fill="#7a7a7a" stroke="none" stroke-width="0"/>
<rect x="54.3" y="205.42" width="0.8" height="0.8" fill="#7a7a7a" stroke="none" stroke-width="0"/>
<path d="M57.95 256.64 L57.37 259.83 L55.88 262.22 L54.15 264.07 L52.21 264.49 L50.7 262.91 L49.54 260.99 L48.3 258.7 L48.83 255.36 L49.62 252.36 L50.66 249.14 L52.66 248.1 L54.63 247.23 L56.29 248.6 L57.68 250.47 L57.97 253.58 Z" fill="#f3f3f3" stroke="#a8a8a8" stroke-width="0.6" stroke-linejoin="round" stroke-dasharray="1.3 0.7"/>
<path d="M57.56 258.53 L56.6 261.15 L54.84 262.68 L52.99 263.63 L51.28 263.09 L50.42 261.1 L49.44 259.18 L49.87 256.47 L51.08 254.2 L52.66 252.78 L54.42 251.24 L56.04 252.1 L57.4 253.44 L58.05 255.79 Z" fill="none" stroke="#5a5a5a" stroke-width="0.65" stroke-linejoin="round"/>
<path d="M57.09 259.44 L55.73 261.51 L53.81 262.24 L51.96 262.37 L50.85 260.89 L50.19 258.94 L50.83 256.52 L52.49 254.92 L54.18 253.94 L55.86 254.02 L57.42 254.87 L57.53 257.13 Z" fill="none" stroke="#333" stroke-width="0.7" stroke-linejoin="round"/>
<ellipse cx="54.3" cy="258.3" rx="2.6" ry="3.2" transform="rotate(30 54.3 258.3)" stroke="#111" stroke-width="1.3" fill="#555"/>
<ellipse cx="54.5" cy="258.4" rx="1" ry="1.8" transform="rotate(30 54.5 258.4)" stroke="none" stroke-width="0" fill="#1a1a1a"/>
<rect x="54.64" y="254.12" width="0.8" height="0.8" fill="#7a7a7a" stroke="none" stroke-width="0"/>
<rect x="53.57" y="255.56" width="0.8" height="0.8" fill="#7a7a7a" stroke="none" stroke-width="0"/>
<rect x="52.16" y="258.95" width="0.8" height="0.8" fill="#7a7a7a" stroke="none" stroke-width="0"/>
<rect x="54.26" y="264.37" width="0.8" height="0.8" fill="#7a7a7a" stroke="none" stroke-width="0"/>
<rect x="55.14" y="264.79" width="0.8" height="0.8" fill="#7a7a7a" stroke="none" stroke-width="0"/>
<rect x="56.71" y="265.85" width="0.8" height="0.8" fill="#7a7a7a" stroke="none" stroke-width="0"/>
<rect x="55.04" y="251.77" width="0.8" height="0.8" fill="#7a7a7a" stroke="none" stroke-width="0"/>
<rect x="56.75" y="265.4" width="0.8" height="0.8" fill="#7a7a7a" stroke="none" stroke-width="0"/>
<rect x="57.14" y="258.67" width="0.8" height="0.8" fill="#7a7a7a" stroke="none" stroke-width="0"/>
<rect x="55.42" y="252.59" width="0.8" height="0.8" fill="#7a7a7a" stroke="none" stroke-width="0"/>
<rect x="56.48" y="258.75" width="0.8" height="0.8" fill="#7a7a7a" stroke="none" stroke-width="0"/>
<rect x="51.56" y="250.08" width="0.8" height="0.8" fill="#7a7a7a" stroke="none" stroke-width="0"/>
<path d="M182.75 163.24 L181.89 166.16 L180.69 168.85 L178.9 170.1 L177.11 170.34 L175.35 169.91 L173.73 168.37 L173.13 165.29 L173.25 161.9 L174.43 158.97 L175.65 156.21 L177.49 154.94 L179.31 154.72 L180.92 155.64 L182.2 157.44 L183.37 159.86 Z" fill="#f3f3f3" stroke="#a8a8a8" stroke-width="0.6" stroke-linejoin="round" stroke-dasharray="1.3 0.7"/>
<path d="M182.49 165.17 L181.37 167.71 L179.7 169.54 L177.86 169.65 L176.23 169.34 L174.86 168.09 L174.26 165.77 L174.49 163.03 L175.59 160.44 L177.45 159.32 L179.19 158.11 L180.92 158.51 L182.07 160.19 L182.33 162.59 Z" fill="none" stroke="#5a5a5a" stroke-width="0.65" stroke-linejoin="round"/>
<path d="M181.78 165.99 L180.31 167.68 L178.6 169.21 L176.74 169.01 L175.6 167.54 L175.35 165.45 L175.61 163.11 L177.16 161.27 L179 160.03 L180.85 160.2 L181.98 161.68 L182.31 163.74 Z" fill="none" stroke="#333" stroke-width="0.7" stroke-linejoin="round"/>
<ellipse cx="179.1" cy="164.9" rx="2.6" ry="3.2" transform="rotate(30 179.1 164.9)" stroke="#111" stroke-width="1.3" fill="#555"/>
<ellipse cx="179.3" cy="165" rx="1" ry="1.8" transform="rotate(30 179.3 165)" stroke="none" stroke-width="0" fill="#1a1a1a"/>
<rect x="179.19" y="162.93" width="0.8" height="0.8" fill="#7a7a7a" stroke="none" stroke-width="0"/>
<rect x="175.25" y="160.79" width="0.8" height="0.8" fill="#7a7a7a" stroke="none" stroke-width="0"/>
<rect x="181.11" y="156.34" width="0.8" height="0.8" fill="#7a7a7a" stroke="none" stroke-width="0"/>
<rect x="174.22" y="166.25" width="0.8" height="0.8" fill="#7a7a7a" stroke="none" stroke-width="0"/>
<rect x="176.32" y="164.69" width="0.8" height="0.8" fill="#7a7a7a" stroke="none" stroke-width="0"/>
<rect x="178.04" y="161.43" width="0.8" height="0.8" fill="#7a7a7a" stroke="none" stroke-width="0"/>
<rect x="182.78" y="158.92" width="0.8" height="0.8" fill="#7a7a7a" stroke="none" stroke-width="0"/>
<rect x="177.52" y="159.05" width="0.8" height="0.8" fill="#7a7a7a" stroke="none" stroke-width="0"/>
<rect x="179.49" y="160.3" width="0.8" height="0.8" fill="#7a7a7a" stroke="none" stroke-width="0"/>
<rect x="177" y="168.3" width="0.8" height="0.8" fill="#7a7a7a" stroke="none" stroke-width="0"/>
<rect x="176.69" y="165.09" width="0.8" height="0.8" fill="#7a7a7a" stroke="none" stroke-width="0"/>
<rect x="181.94" y="157.32" width="0.8" height="0.8" fill="#7a7a7a" stroke="none" stroke-width="0"/>
<path d="M181.25 209.88 L180.5 213.15 L179.05 215.85 L177.19 217.7 L175.19 217.84 L173.31 217.13 L172.53 214.2 L171.59 211.75 L171.31 208.48 L172.36 205.31 L173.7 202.44 L175.71 201.75 L177.56 200.92 L179.18 202.07 L180.62 203.75 L181.3 206.6 Z" fill="#f3f3f3" stroke="#a8a8a8" stroke-width="0.6" stroke-linejoin="round" stroke-dasharray="1.3 0.7"/>
<path d="M180.14 211.62 L179.28 213.95 L177.79 215.66 L175.97 217.02 L174.24 216.39 L173.36 214.36 L172.41 212.39 L173.18 209.76 L173.92 207.2 L175.64 205.89 L177.32 205.35 L179.21 204.91 L180.08 207 L180.56 209.18 Z" fill="none" stroke="#5a5a5a" stroke-width="0.65" stroke-linejoin="round"/>
<path d="M180.22 212.7 L178.71 214.69 L176.82 215.36 L174.91 215.68 L173.8 214.13 L173.34 212.1 L174.15 209.87 L175.27 207.68 L177.19 206.76 L179.09 206.72 L180.38 208.1 L180.45 210.35 Z" fill="none" stroke="#333" stroke-width="0.7" stroke-linejoin="round"/>
<ellipse cx="177.3" cy="211.5" rx="2.6" ry="3.2" transform="rotate(30 177.3 211.5)" stroke="#111" stroke-width="1.3" fill="#555"/>
<ellipse cx="177.5" cy="211.6" rx="1" ry="1.8" transform="rotate(30 177.5 211.6)" stroke="none" stroke-width="0" fill="#1a1a1a"/>
<rect x="175.25" y="205.02" width="0.8" height="0.8" fill="#7a7a7a" stroke="none" stroke-width="0"/>
<rect x="173.31" y="203.31" width="0.8" height="0.8" fill="#7a7a7a" stroke="none" stroke-width="0"/>
<rect x="174.71" y="212.45" width="0.8" height="0.8" fill="#7a7a7a" stroke="none" stroke-width="0"/>
<rect x="172.03" y="213.72" width="0.8" height="0.8" fill="#7a7a7a" stroke="none" stroke-width="0"/>
<rect x="175.04" y="207.47" width="0.8" height="0.8" fill="#7a7a7a" stroke="none" stroke-width="0"/>
<rect x="179.37" y="210.37" width="0.8" height="0.8" fill="#7a7a7a" stroke="none" stroke-width="0"/>
<rect x="174.84" y="210.38" width="0.8" height="0.8" fill="#7a7a7a" stroke="none" stroke-width="0"/>
<rect x="178.34" y="203.17" width="0.8" height="0.8" fill="#7a7a7a" stroke="none" stroke-width="0"/>
<rect x="180.78" y="202.59" width="0.8" height="0.8" fill="#7a7a7a" stroke="none" stroke-width="0"/>
<rect x="178.75" y="216.56" width="0.8" height="0.8" fill="#7a7a7a" stroke="none" stroke-width="0"/>
<rect x="172.16" y="215.59" width="0.8" height="0.8" fill="#7a7a7a" stroke="none" stroke-width="0"/>
<rect x="175.3" y="212.03" width="0.8" height="0.8" fill="#7a7a7a" stroke="none" stroke-width="0"/>
<path d="M182.38 256.2 L181.55 259.5 L179.93 261.84 L178.11 263.14 L176.32 263.15 L174.43 263.12 L173.23 260.88 L172.36 258.17 L172.74 254.85 L173.29 251.54 L174.96 249.38 L176.63 247.18 L178.61 246.88 L180.26 248.17 L181.61 250.06 L182.38 252.86 Z" fill="#f3f3f3" stroke="#a8a8a8" stroke-width="0.6" stroke-linejoin="round" stroke-dasharray="1.3 0.7"/>
<path d="M181.26 257.95 L180.45 260.46 L178.9 262.44 L177.05 262.63 L175.22 262.72 L174.02 261.03 L173.38 258.7 L174.04 256.02 L175.18 253.83 L176.5 251.56 L178.41 250.8 L180.03 251.63 L181 253.38 L181.55 255.48 Z" fill="none" stroke="#5a5a5a" stroke-width="0.65" stroke-linejoin="round"/>
<path d="M181.06 258.92 L179.56 260.68 L177.8 262.12 L176.03 261.73 L174.97 260.27 L174.35 258.4 L175.08 256.14 L176.27 253.98 L178.2 252.91 L179.95 253.32 L181.25 254.52 L181.67 256.6 Z" fill="none" stroke="#333" stroke-width="0.7" stroke-linejoin="round"/>
<ellipse cx="178.3" cy="257.8" rx="2.6" ry="3.2" transform="rotate(30 178.3 257.8)" stroke="#111" stroke-width="1.3" fill="#555"/>
<ellipse cx="178.5" cy="257.9" rx="1" ry="1.8" transform="rotate(30 178.5 257.9)" stroke="none" stroke-width="0" fill="#1a1a1a"/>
<rect x="180.25" y="265.1" width="0.8" height="0.8" fill="#7a7a7a" stroke="none" stroke-width="0"/>
<rect x="173.26" y="254.64" width="0.8" height="0.8" fill="#7a7a7a" stroke="none" stroke-width="0"/>
<rect x="178.42" y="253.67" width="0.8" height="0.8" fill="#7a7a7a" stroke="none" stroke-width="0"/>
<rect x="178.3" y="250.02" width="0.8" height="0.8" fill="#7a7a7a" stroke="none" stroke-width="0"/>
<rect x="180.92" y="257.43" width="0.8" height="0.8" fill="#7a7a7a" stroke="none" stroke-width="0"/>
<rect x="174.05" y="259.77" width="0.8" height="0.8" fill="#7a7a7a" stroke="none" stroke-width="0"/>
<rect x="175.81" y="251.84" width="0.8" height="0.8" fill="#7a7a7a" stroke="none" stroke-width="0"/>
<rect x="177.35" y="250.85" width="0.8" height="0.8" fill="#7a7a7a" stroke="none" stroke-width="0"/>
<rect x="174.89" y="263.21" width="0.8" height="0.8" fill="#7a7a7a" stroke="none" stroke-width="0"/>
<rect x="179.28" y="248.71" width="0.8" height="0.8" fill="#7a7a7a" stroke="none" stroke-width="0"/>
<rect x="180" y="248.79" width="0.8" height="0.8" fill="#7a7a7a" stroke="none" stroke-width="0"/>
<rect x="176" y="263.88" width="0.8" height="0.8" fill="#7a7a7a" stroke="none" stroke-width="0"/>
<path d="M108.5 169.5 Q114.5 162.5 117.75 161 Q121 159.5 130.5 157" fill="none" stroke="#f3f3f3" stroke-width="8.7" stroke-linecap="round" stroke-linejoin="round"/>
<path d="M109.76 170.58 L112 170.47 L113.28 169.54 L114.17 168.27 L115.34 167.24 L116.5 166.2 L116.37 166.49 L117.68 165.64 L119.3 165.48 L120.68 164.79 L122.23 164.47 L122.79 164.03 L124.07 162.83 L125.55 162.43 L126.95 161.68 L128.48 161.42 L129.82 160.47 L130.86 158.35 L130.11 155.5 L128.32 154.78 L126.63 154.41 L125 154.28 L123.39 154.22 L122.04 155.12 L120.47 155.23 L118.4 156.18 L116.84 156.47 L115.21 156.62 L114.13 157.96 L112.51 158.13 L110.52 161.08 L109.39 162.14 L108.51 163.42 L107.86 164.89 L107.44 166.57 L107.37 168.53 Z" fill="none" stroke="#a5a5a5" stroke-width="0.6" stroke-linejoin="round" stroke-dasharray="1.3 0.6"/>
<path d="M109.66 170.49 L111.14 169.73 L112.5 168.87 L113.92 168.06 L114.68 166.68 L115.98 165.76 L116 165.68 L117.52 165.29 L118.72 164.21 L120.02 163.35 L121.36 162.59 L122.46 162.78 L123.95 162.4 L125.37 161.73 L126.79 161.07 L128.28 160.67 L129.59 159.61 L130.75 157.93 L130.11 155.51 L128.38 155.01 L126.74 154.81 L125.3 155.4 L123.73 155.5 L122.27 156.01 L120.7 156.09 L118.65 156.71 L117.3 157.48 L115.8 157.9 L114.66 159.1 L113.22 159.66 L110.81 161.33 L110.11 162.76 L109.16 163.98 L108.61 165.54 L107.68 166.77 L107.52 168.66 Z" fill="none" stroke="#5a5a5a" stroke-width="0.65" stroke-linejoin="round"/>
<path d="M109.29 170.18 L110.89 169.52 L111.81 168.28 L112.72 167.02 L113.9 166.01 L114.9 164.84 L115.34 164.25 L116.84 163.83 L118.15 162.98 L119.7 162.67 L121.19 162.21 L122.08 161.35 L123.57 160.96 L125.16 160.95 L126.46 159.83 L127.93 159.33 L129.43 158.98 L130.63 157.51 L130.28 156.17 L128.66 156.06 L127.06 156.05 L125.58 156.48 L124.08 156.82 L122.41 156.56 L121 157.25 L119.05 157.57 L117.63 158.19 L116.38 159.15 L114.85 159.5 L113.67 160.64 L111.7 162.09 L111.16 163.66 L110.04 164.73 L109.03 165.89 L108.44 167.42 L107.5 168.64 Z" fill="none" stroke="#444" stroke-width="0.6" stroke-linejoin="round"/>
<path d="M112.5 165.2 Q116.5 161.2 124 159.2" fill="none" stroke="#121212" stroke-width="4.18" stroke-linecap="round" stroke-linejoin="round"/>
<path d="M112.5 165.2 Q116.5 161.2 124 159.2" fill="none" stroke="#8a8a8a" stroke-width="0.55" stroke-linecap="round" stroke-linejoin="round"/>
<rect x="115.94" y="167.25" width="0.8" height="0.8" fill="#7a7a7a" stroke="none" stroke-width="0"/>
<rect x="121.85" y="160.64" width="0.8" height="0.8" fill="#7a7a7a" stroke="none" stroke-width="0"/>
<rect x="116.28" y="163.9" width="0.8" height="0.8" fill="#7a7a7a" stroke="none" stroke-width="0"/>
<rect x="128.42" y="161.99" width="0.8" height="0.8" fill="#7a7a7a" stroke="none" stroke-width="0"/>
<rect x="114.52" y="157.53" width="0.8" height="0.8" fill="#7a7a7a" stroke="none" stroke-width="0"/>
<rect x="115.47" y="154.95" width="0.8" height="0.8" fill="#7a7a7a" stroke="none" stroke-width="0"/>
<rect x="108.48" y="163.32" width="0.8" height="0.8" fill="#7a7a7a" stroke="none" stroke-width="0"/>
<rect x="103.85" y="164.49" width="0.8" height="0.8" fill="#7a7a7a" stroke="none" stroke-width="0"/>
<rect x="108.8" y="162.05" width="0.8" height="0.8" fill="#7a7a7a" stroke="none" stroke-width="0"/>
<rect x="128.2" y="154.01" width="0.8" height="0.8" fill="#7a7a7a" stroke="none" stroke-width="0"/>
<rect x="111.33" y="162.68" width="0.8" height="0.8" fill="#7a7a7a" stroke="none" stroke-width="0"/>
<rect x="114.62" y="172.44" width="0.8" height="0.8" fill="#7a7a7a" stroke="none" stroke-width="0"/>
<rect x="116.91" y="156.67" width="0.8" height="0.8" fill="#7a7a7a" stroke="none" stroke-width="0"/>
<rect x="108.58" y="164.72" width="0.8" height="0.8" fill="#7a7a7a" stroke="none" stroke-width="0"/>
<rect x="121.83" y="152.94" width="0.8" height="0.8" fill="#7a7a7a" stroke="none" stroke-width="0"/>
<rect x="129.42" y="153.41" width="0.8" height="0.8" fill="#7a7a7a" stroke="none" stroke-width="0"/>
<path d="M109 214.5 Q116.5 207.5 120.75 206.25 Q125 205 133.5 203.8" fill="none" stroke="#f3f3f3" stroke-width="8.3" stroke-linecap="round" stroke-linejoin="round"/>
<path d="M110.01 215.59 L111.98 215.31 L113.46 214.5 L115.49 214.29 L116.59 213.08 L117.77 211.95 L118.86 210.73 L118.72 210.96 L120.27 210.47 L121.94 210.38 L123.49 209.86 L125 209.21 L125.95 208.63 L127.59 208.55 L129.16 208.06 L130.76 207.68 L132.36 207.4 L133.7 205.19 L133.31 202.49 L131.46 200.97 L129.77 200.68 L128.11 200.56 L126.46 200.59 L124.83 200.7 L122.51 200.76 L121.17 201.99 L119.37 201.65 L117.99 202.72 L116.45 203.25 L113 204.46 L112.12 205.9 L111.06 207.16 L110.2 208.62 L109.19 209.93 L108 211.04 L107.48 212.88 Z" fill="none" stroke="#a5a5a5" stroke-width="0.6" stroke-linejoin="round" stroke-dasharray="1.3 0.6"/>
<path d="M110.15 215.73 L111.49 214.78 L113.15 214.17 L114.68 213.42 L115.66 212.08 L116.8 210.92 L118.03 209.84 L118.55 210.39 L120.15 210.08 L121.55 209.06 L123.19 208.86 L124.63 207.96 L125.86 207.95 L127.42 207.34 L128.98 206.77 L130.6 206.54 L132.18 206.08 L133.73 205.42 L133.36 202.82 L131.54 201.57 L129.93 201.83 L128.3 201.91 L126.67 202.06 L124.98 201.76 L122.87 202 L121.39 202.75 L119.92 203.49 L118.26 203.65 L116.59 203.75 L113.91 205.43 L112.73 206.55 L111.55 207.68 L110.83 209.3 L109.52 210.29 L108.43 211.5 L108.13 213.57 Z" fill="none" stroke="#5a5a5a" stroke-width="0.65" stroke-linejoin="round"/>
<path d="M109.52 215.05 L111.26 214.53 L112.35 213.31 L113.69 212.36 L115.21 211.6 L116.13 210.2 L117.4 209.17 L118.18 209.13 L119.78 208.8 L121.23 207.96 L122.79 207.49 L124.4 207.19 L125.71 206.91 L127.37 206.98 L128.86 205.88 L130.49 205.8 L132.11 205.64 L133.67 205 L133.44 203.36 L131.7 202.73 L130.03 202.56 L128.45 202.99 L126.83 203.17 L125.13 202.81 L123.21 203.14 L121.7 203.78 L120.23 204.56 L118.62 204.87 L117.03 205.24 L114.8 206.39 L113.64 207.52 L112.55 208.75 L111.61 210.13 L110.11 210.91 L108.95 212.06 L108.61 214.08 Z" fill="none" stroke="#444" stroke-width="0.6" stroke-linejoin="round"/>
<path d="M114.5 208.8 Q120.5 205.8 129.5 204.6" fill="none" stroke="#121212" stroke-width="3.94" stroke-linecap="round" stroke-linejoin="round"/>
<path d="M114.5 208.8 Q120.5 205.8 129.5 204.6" fill="none" stroke="#8a8a8a" stroke-width="0.55" stroke-linecap="round" stroke-linejoin="round"/>
<rect x="126.18" y="208.44" width="0.8" height="0.8" fill="#7a7a7a" stroke="none" stroke-width="0"/>
<rect x="114.77" y="216.61" width="0.8" height="0.8" fill="#7a7a7a" stroke="none" stroke-width="0"/>
<rect x="134.12" y="200.35" width="0.8" height="0.8" fill="#7a7a7a" stroke="none" stroke-width="0"/>
<rect x="132.1" y="199.41" width="0.8" height="0.8" fill="#7a7a7a" stroke="none" stroke-width="0"/>
<rect x="123.41" y="205.17" width="0.8" height="0.8" fill="#7a7a7a" stroke="none" stroke-width="0"/>
<rect x="108.39" y="212.13" width="0.8" height="0.8" fill="#7a7a7a" stroke="none" stroke-width="0"/>
<rect x="115.51" y="205.95" width="0.8" height="0.8" fill="#7a7a7a" stroke="none" stroke-width="0"/>
<rect x="128.83" y="204.48" width="0.8" height="0.8" fill="#7a7a7a" stroke="none" stroke-width="0"/>
<rect x="116.54" y="204.08" width="0.8" height="0.8" fill="#7a7a7a" stroke="none" stroke-width="0"/>
<rect x="112.86" y="206.12" width="0.8" height="0.8" fill="#7a7a7a" stroke="none" stroke-width="0"/>
<rect x="128.74" y="205.99" width="0.8" height="0.8" fill="#7a7a7a" stroke="none" stroke-width="0"/>
<rect x="108.04" y="213.3" width="0.8" height="0.8" fill="#7a7a7a" stroke="none" stroke-width="0"/>
<rect x="116.15" y="215.3" width="0.8" height="0.8" fill="#7a7a7a" stroke="none" stroke-width="0"/>
<rect x="123.03" y="203" width="0.8" height="0.8" fill="#7a7a7a" stroke="none" stroke-width="0"/>
<rect x="114.44" y="212.32" width="0.8" height="0.8" fill="#7a7a7a" stroke="none" stroke-width="0"/>
<rect x="119.18" y="206.37" width="0.8" height="0.8" fill="#7a7a7a" stroke="none" stroke-width="0"/>
<path d="M109.5 257.8 Q117.5 253.8 121.75 252.7 Q126 251.6 133.5 250.8" fill="none" stroke="#f3f3f3" stroke-width="7.9" stroke-linecap="round" stroke-linejoin="round"/>
<path d="M110.23 259.27 L111.95 259.38 L113.42 258.98 L115.28 259.38 L116.55 258.6 L117.72 257.62 L119.4 257.65 L120.01 257.68 L121.34 256.87 L122.84 256.76 L124.29 256.43 L125.66 255.79 L126.49 255.15 L128.01 255.4 L129.44 254.78 L130.87 254.17 L132.3 253.59 L133.65 252.17 L133.28 248.75 L131.69 247.8 L130.22 248.12 L128.73 248.1 L127.16 247.41 L125.71 247.84 L123.58 247.75 L122.12 248.02 L120.63 248.22 L119.4 249.38 L117.96 249.74 L115.67 250.2 L114.42 251.03 L113.06 251.62 L112.07 252.96 L110.68 253.51 L109.38 254.24 L108.81 256.41 Z" fill="none" stroke="#a5a5a5" stroke-width="0.6" stroke-linejoin="round" stroke-dasharray="1.3 0.6"/>
<path d="M110.19 259.18 L111.7 258.87 L113.02 258.2 L114.8 258.43 L116.08 257.66 L117.45 257.08 L118.66 256.18 L119.56 255.95 L120.99 255.54 L122.54 255.59 L123.96 255.12 L125.43 254.89 L126.42 254.48 L127.89 254.24 L129.3 253.43 L130.8 253.56 L132.22 252.79 L133.67 252.44 L133.41 249.95 L131.76 248.48 L130.33 249.08 L128.79 248.67 L127.26 248.31 L125.84 249.06 L124.03 249.47 L122.51 249.53 L120.95 249.42 L119.69 250.52 L118.16 250.52 L116.37 251.6 L114.72 251.62 L113.75 253.01 L112.49 253.82 L111.13 254.42 L109.92 255.31 L109.14 257.09 Z" fill="none" stroke="#5a5a5a" stroke-width="0.65" stroke-linejoin="round"/>
<path d="M109.91 258.63 L111.32 258.11 L112.66 257.48 L114.28 257.39 L115.69 256.88 L116.9 255.98 L118.33 255.53 L119.37 255.18 L120.84 254.96 L122.33 254.76 L123.69 254.09 L125.12 253.69 L126.27 253.05 L127.74 252.83 L129.2 252.52 L130.73 252.85 L132.18 252.41 L133.6 251.74 L133.43 250.1 L131.91 249.87 L130.39 249.63 L128.87 249.43 L127.38 249.49 L125.91 249.7 L124.24 250.29 L122.82 250.72 L121.35 250.98 L119.97 251.6 L118.34 251.24 L116.67 252.19 L115.21 252.61 L114.19 253.89 L112.73 254.28 L111.54 255.23 L110.21 255.9 L109 256.8 Z" fill="none" stroke="#444" stroke-width="0.6" stroke-linejoin="round"/>
<path d="M118.5 253.5 Q124.5 251.6 131 250.8" fill="none" stroke="#121212" stroke-width="3.71" stroke-linecap="round" stroke-linejoin="round"/>
<path d="M118.5 253.5 Q124.5 251.6 131 250.8" fill="none" stroke="#8a8a8a" stroke-width="0.55" stroke-linecap="round" stroke-linejoin="round"/>
<rect x="119.87" y="254" width="0.8" height="0.8" fill="#7a7a7a" stroke="none" stroke-width="0"/>
<rect x="122.25" y="252.18" width="0.8" height="0.8" fill="#7a7a7a" stroke="none" stroke-width="0"/>
<rect x="122.6" y="255.17" width="0.8" height="0.8" fill="#7a7a7a" stroke="none" stroke-width="0"/>
<rect x="111.04" y="259.64" width="0.8" height="0.8" fill="#7a7a7a" stroke="none" stroke-width="0"/>
<rect x="118.29" y="260.78" width="0.8" height="0.8" fill="#7a7a7a" stroke="none" stroke-width="0"/>
<rect x="119.39" y="247.43" width="0.8" height="0.8" fill="#7a7a7a" stroke="none" stroke-width="0"/>
<rect x="113.35" y="256.46" width="0.8" height="0.8" fill="#7a7a7a" stroke="none" stroke-width="0"/>
<rect x="131.23" y="247.14" width="0.8" height="0.8" fill="#7a7a7a" stroke="none" stroke-width="0"/>
<rect x="119.56" y="247.99" width="0.8" height="0.8" fill="#7a7a7a" stroke="none" stroke-width="0"/>
<rect x="125.22" y="247.81" width="0.8" height="0.8" fill="#7a7a7a" stroke="none" stroke-width="0"/>
<rect x="122.63" y="255.77" width="0.8" height="0.8" fill="#7a7a7a" stroke="none" stroke-width="0"/>
<rect x="122.79" y="250.03" width="0.8" height="0.8" fill="#7a7a7a" stroke="none" stroke-width="0"/>
<rect x="129.92" y="255.44" width="0.8" height="0.8" fill="#7a7a7a" stroke="none" stroke-width="0"/>
<rect x="117.44" y="248.04" width="0.8" height="0.8" fill="#7a7a7a" stroke="none" stroke-width="0"/>
<rect x="119.09" y="253.86" width="0.8" height="0.8" fill="#7a7a7a" stroke="none" stroke-width="0"/>
<rect x="114.44" y="253.9" width="0.8" height="0.8" fill="#7a7a7a" stroke="none" stroke-width="0"/>
<path d="M234.5 168 Q240 162.6 244 160.7 Q248 158.8 256.5 156.4" fill="none" stroke="#f3f3f3" stroke-width="7.5" stroke-linecap="round" stroke-linejoin="round"/>
<path d="M235.67 169.19 L237.53 168.96 L239.06 168.38 L240.21 167.42 L241.33 166.42 L242.31 165.29 L243.02 166.03 L244.34 165.32 L245.5 164.28 L246.97 163.91 L248.31 163.24 L249.39 162.04 L250.47 162.54 L251.77 161.63 L252.98 160.44 L254.6 160.66 L255.77 159.3 L256.88 157.76 L256.05 154.81 L254.21 153.8 L252.82 154.37 L251.35 154.67 L249.88 154.96 L248.15 154.33 L246.1 155.1 L244.76 155.77 L243.49 156.57 L242.21 157.37 L240.74 157.75 L239.66 158.96 L236.86 159.74 L236.34 161.34 L235.53 162.66 L234.2 163.43 L233.86 165.22 L233.43 166.91 Z" fill="none" stroke="#a5a5a5" stroke-width="0.6" stroke-linejoin="round" stroke-dasharray="1.3 0.6"/>
<path d="M235.24 168.76 L236.96 168.37 L237.96 167.26 L239.33 166.52 L240.55 165.63 L241.79 164.76 L242.44 164.81 L243.7 163.98 L245.07 163.39 L246.49 162.89 L247.59 161.73 L249.22 161.68 L250.01 160.91 L251.39 160.28 L252.76 159.65 L254.21 159.29 L255.62 158.77 L256.87 157.72 L256.2 155.34 L254.46 154.69 L253.11 155.38 L251.63 155.64 L250.03 155.47 L248.65 156.1 L246.74 156.45 L245.22 156.74 L244.14 157.94 L242.78 158.57 L241.34 159.02 L240.1 159.88 L237.95 160.85 L236.78 161.79 L236.31 163.44 L235.26 164.51 L234.01 165.37 L233.99 167.48 Z" fill="none" stroke="#5a5a5a" stroke-width="0.65" stroke-linejoin="round"/>
<path d="M234.89 168.4 L236.1 167.5 L237.47 166.76 L238.48 165.66 L239.89 164.96 L241.16 164.13 L241.76 163.37 L243.35 163.24 L244.6 162.39 L245.91 161.66 L247.22 160.95 L248.62 160.41 L249.75 159.97 L251.16 159.47 L252.56 158.96 L253.88 158.12 L255.28 157.58 L256.6 156.75 L256.33 155.78 L254.84 156 L253.25 155.9 L251.89 156.57 L250.23 156.18 L248.95 157.14 L247.16 157.33 L245.84 158.03 L244.47 158.63 L243.25 159.56 L241.75 159.88 L240.42 160.55 L238.61 161.52 L237.74 162.77 L236.71 163.85 L235.8 165.06 L234.63 166 L234.06 167.55 Z" fill="none" stroke="#444" stroke-width="0.6" stroke-linejoin="round"/>
<path d="M236 166.5 Q241 162.3 251.5 158" fill="none" stroke="#121212" stroke-width="3.48" stroke-linecap="round" stroke-linejoin="round"/>
<path d="M236 166.5 Q241 162.3 251.5 158" fill="none" stroke="#8a8a8a" stroke-width="0.55" stroke-linecap="round" stroke-linejoin="round"/>
<rect x="256.16" y="156.04" width="0.8" height="0.8" fill="#7a7a7a" stroke="none" stroke-width="0"/>
<rect x="242.49" y="160.89" width="0.8" height="0.8" fill="#7a7a7a" stroke="none" stroke-width="0"/>
<rect x="253.5" y="160.35" width="0.8" height="0.8" fill="#7a7a7a" stroke="none" stroke-width="0"/>
<rect x="243.65" y="165.67" width="0.8" height="0.8" fill="#7a7a7a" stroke="none" stroke-width="0"/>
<rect x="234.41" y="166.7" width="0.8" height="0.8" fill="#7a7a7a" stroke="none" stroke-width="0"/>
<rect x="249.95" y="159.54" width="0.8" height="0.8" fill="#7a7a7a" stroke="none" stroke-width="0"/>
<rect x="251.94" y="160.7" width="0.8" height="0.8" fill="#7a7a7a" stroke="none" stroke-width="0"/>
<rect x="254.89" y="160.26" width="0.8" height="0.8" fill="#7a7a7a" stroke="none" stroke-width="0"/>
<rect x="253.2" y="153.89" width="0.8" height="0.8" fill="#7a7a7a" stroke="none" stroke-width="0"/>
<rect x="256.95" y="161.65" width="0.8" height="0.8" fill="#7a7a7a" stroke="none" stroke-width="0"/>
<rect x="253.88" y="158.23" width="0.8" height="0.8" fill="#7a7a7a" stroke="none" stroke-width="0"/>
<rect x="237.78" y="169.91" width="0.8" height="0.8" fill="#7a7a7a" stroke="none" stroke-width="0"/>
<rect x="236.17" y="160.69" width="0.8" height="0.8" fill="#7a7a7a" stroke="none" stroke-width="0"/>
<rect x="234.79" y="160.81" width="0.8" height="0.8" fill="#7a7a7a" stroke="none" stroke-width="0"/>
<rect x="260.37" y="156.04" width="0.8" height="0.8" fill="#7a7a7a" stroke="none" stroke-width="0"/>
<rect x="251.92" y="158.47" width="0.8" height="0.8" fill="#7a7a7a" stroke="none" stroke-width="0"/>
<path d="M236 212.8 Q242 207.5 246.5 206.05 Q251 204.6 258.5 203" fill="none" stroke="#f3f3f3" stroke-width="7.9" stroke-linecap="round" stroke-linejoin="round"/>
<path d="M237.08 214.02 L239.29 214.29 L240.41 213.32 L241.5 212.33 L243.05 211.84 L243.9 210.58 L243.95 210.74 L245.56 210.93 L247.07 210.78 L248.38 210.01 L249.62 209.06 L251.12 208.89 L252.04 208.13 L253.42 207.51 L254.9 207.39 L256.3 206.87 L257.65 206.11 L258.84 204.6 L258.2 201.57 L256.42 200.35 L254.89 200.25 L253.34 200.07 L251.93 200.54 L250.5 200.91 L248.74 201.5 L247.32 201.92 L245.72 201.77 L244.21 201.89 L243.09 203.26 L241.47 203.05 L239.04 205.07 L237.71 205.8 L236.93 207.16 L235.97 208.3 L235.23 209.7 L234.85 211.5 Z" fill="none" stroke="#a5a5a5" stroke-width="0.6" stroke-linejoin="round" stroke-dasharray="1.3 0.6"/>
<path d="M237.09 214.04 L238.67 213.59 L239.67 212.49 L240.9 211.65 L242.4 211.11 L243.63 210.27 L243.84 210.41 L245 209.18 L246.67 209.53 L248.09 209.14 L249.24 207.88 L250.83 207.99 L251.79 206.96 L253.37 207.31 L254.63 206.1 L256.03 205.57 L257.54 205.57 L258.76 204.23 L258.26 201.87 L256.69 201.59 L255.2 201.7 L253.67 201.63 L252.1 201.34 L250.71 201.91 L249.03 202.39 L247.5 202.48 L246.15 203.11 L244.73 203.5 L243.4 204.2 L241.83 204.16 L239.73 205.85 L238.69 206.91 L237.88 208.23 L236.81 209.26 L235.63 210.15 L234.91 211.57 Z" fill="none" stroke="#5a5a5a" stroke-width="0.65" stroke-linejoin="round"/>
<path d="M236.34 213.18 L237.77 212.57 L239 211.73 L240.25 210.91 L241.82 210.46 L242.63 209.14 L243.32 208.78 L244.89 208.84 L246.12 207.83 L247.55 207.46 L249.09 207.42 L250.37 206.57 L251.58 205.98 L253.03 205.72 L254.48 205.42 L256 205.44 L257.34 204.63 L258.61 203.5 L258.4 202.53 L256.72 201.75 L255.3 202.17 L253.83 202.37 L252.34 202.47 L250.88 202.72 L249.39 203.53 L247.91 203.76 L246.52 204.25 L244.93 204.15 L243.62 204.88 L242.28 205.56 L240.14 206.33 L239.13 207.41 L238.37 208.78 L237.27 209.77 L236.17 210.76 L235.37 212.09 Z" fill="none" stroke="#444" stroke-width="0.6" stroke-linejoin="round"/>
<path d="M241.5 207.4 Q249 204.8 256.5 203.6" fill="none" stroke="#121212" stroke-width="3.71" stroke-linecap="round" stroke-linejoin="round"/>
<path d="M241.5 207.4 Q249 204.8 256.5 203.6" fill="none" stroke="#8a8a8a" stroke-width="0.55" stroke-linecap="round" stroke-linejoin="round"/>
<rect x="259.74" y="200.83" width="0.8" height="0.8" fill="#7a7a7a" stroke="none" stroke-width="0"/>
<rect x="241.91" y="214.36" width="0.8" height="0.8" fill="#7a7a7a" stroke="none" stroke-width="0"/>
<rect x="244.22" y="213.65" width="0.8" height="0.8" fill="#7a7a7a" stroke="none" stroke-width="0"/>
<rect x="248.48" y="201.03" width="0.8" height="0.8" fill="#7a7a7a" stroke="none" stroke-width="0"/>
<rect x="241.51" y="209.46" width="0.8" height="0.8" fill="#7a7a7a" stroke="none" stroke-width="0"/>
<rect x="249.33" y="207.78" width="0.8" height="0.8" fill="#7a7a7a" stroke="none" stroke-width="0"/>
<rect x="246.96" y="201.84" width="0.8" height="0.8" fill="#7a7a7a" stroke="none" stroke-width="0"/>
<rect x="247.72" y="201.52" width="0.8" height="0.8" fill="#7a7a7a" stroke="none" stroke-width="0"/>
<rect x="251.77" y="206.72" width="0.8" height="0.8" fill="#7a7a7a" stroke="none" stroke-width="0"/>
<rect x="245.38" y="205.27" width="0.8" height="0.8" fill="#7a7a7a" stroke="none" stroke-width="0"/>
<rect x="233.9" y="211.97" width="0.8" height="0.8" fill="#7a7a7a" stroke="none" stroke-width="0"/>
<rect x="233.72" y="210.47" width="0.8" height="0.8" fill="#7a7a7a" stroke="none" stroke-width="0"/>
<rect x="244.62" y="203.99" width="0.8" height="0.8" fill="#7a7a7a" stroke="none" stroke-width="0"/>
<rect x="261.04" y="205.16" width="0.8" height="0.8" fill="#7a7a7a" stroke="none" stroke-width="0"/>
<rect x="252.43" y="200.74" width="0.8" height="0.8" fill="#7a7a7a" stroke="none" stroke-width="0"/>
<rect x="231.62" y="216.51" width="0.8" height="0.8" fill="#7a7a7a" stroke="none" stroke-width="0"/>
<path d="M236.5 257.5 Q243.5 253 247.25 252.1 Q251 251.2 259 250.2" fill="none" stroke="#f3f3f3" stroke-width="7.5" stroke-linecap="round" stroke-linejoin="round"/>
<path d="M237.35 258.82 L239.26 259.17 L240.32 258.2 L241.81 257.9 L243.34 257.65 L244.54 256.9 L244.5 256.4 L245.9 256.15 L247.26 255.75 L248.65 255.44 L250.08 255.33 L251.56 255.42 L252.38 254.4 L253.83 254.52 L255.27 254.61 L256.53 253.29 L257.89 252.72 L259.21 251.91 L258.84 248.95 L257.28 247.85 L255.81 247.51 L254.3 246.88 L252.97 247.7 L251.45 246.91 L249.77 247.99 L248.29 247.87 L246.84 247.9 L245.43 248.1 L244.04 248.38 L242.78 249.23 L240.33 250.35 L239.25 251.29 L238.05 252.05 L237.25 253.43 L236.41 254.74 L235.55 256.02 Z" fill="none" stroke="#a5a5a5" stroke-width="0.6" stroke-linejoin="round" stroke-dasharray="1.3 0.6"/>
<path d="M237.2 258.59 L238.57 258.09 L240.03 257.74 L241.42 257.29 L242.59 256.49 L244.01 256.07 L244.41 256.02 L245.67 255.2 L247.13 255.18 L248.38 254.35 L249.81 254.21 L251.27 254.23 L252.24 253.29 L253.68 253.37 L255.05 252.86 L256.45 252.64 L257.79 251.92 L259.1 251.02 L258.84 248.91 L257.35 248.44 L255.88 248.12 L254.49 248.41 L253.06 248.36 L251.6 248.16 L249.93 248.65 L248.54 248.93 L247.22 249.48 L245.75 249.42 L244.44 250.05 L243.01 250.16 L240.8 251.08 L240.12 252.65 L238.79 253.2 L237.73 254.18 L236.51 254.89 L236.11 256.9 Z" fill="none" stroke="#5a5a5a" stroke-width="0.65" stroke-linejoin="round"/>
<path d="M236.67 257.76 L238.25 257.6 L239.41 256.79 L240.74 256.23 L242.09 255.72 L243.32 255.01 L244 254.31 L245.42 254.16 L246.88 254.14 L248.12 253.23 L249.63 253.48 L250.91 252.71 L252.12 252.31 L253.61 252.82 L254.96 252.18 L256.34 251.74 L257.77 251.79 L259.06 250.66 L258.91 249.5 L257.44 249.11 L255.99 249 L254.65 249.66 L253.13 248.97 L251.76 249.39 L250.28 250.08 L248.83 250.12 L247.46 250.49 L245.96 250.32 L244.72 251.23 L243.21 251.02 L241.39 252.01 L240.24 252.83 L239.38 254.12 L238.18 254.87 L237.01 255.67 L236.23 257.08 Z" fill="none" stroke="#444" stroke-width="0.6" stroke-linejoin="round"/>
<path d="M244 252.8 Q250 251.2 257.5 250.4" fill="none" stroke="#121212" stroke-width="3.48" stroke-linecap="round" stroke-linejoin="round"/>
<path d="M244 252.8 Q250 251.2 257.5 250.4" fill="none" stroke="#8a8a8a" stroke-width="0.55" stroke-linecap="round" stroke-linejoin="round"/>
<rect x="248.01" y="249.85" width="0.8" height="0.8" fill="#7a7a7a" stroke="none" stroke-width="0"/>
<rect x="261.66" y="246.98" width="0.8" height="0.8" fill="#7a7a7a" stroke="none" stroke-width="0"/>
<rect x="246.35" y="251.35" width="0.8" height="0.8" fill="#7a7a7a" stroke="none" stroke-width="0"/>
<rect x="257.81" y="252.33" width="0.8" height="0.8" fill="#7a7a7a" stroke="none" stroke-width="0"/>
<rect x="249.05" y="248.94" width="0.8" height="0.8" fill="#7a7a7a" stroke="none" stroke-width="0"/>
<rect x="243.69" y="256" width="0.8" height="0.8" fill="#7a7a7a" stroke="none" stroke-width="0"/>
<rect x="243.13" y="254.92" width="0.8" height="0.8" fill="#7a7a7a" stroke="none" stroke-width="0"/>
<rect x="240.92" y="259.04" width="0.8" height="0.8" fill="#7a7a7a" stroke="none" stroke-width="0"/>
<rect x="249.85" y="255.98" width="0.8" height="0.8" fill="#7a7a7a" stroke="none" stroke-width="0"/>
<rect x="260.69" y="249.49" width="0.8" height="0.8" fill="#7a7a7a" stroke="none" stroke-width="0"/>
<rect x="253.25" y="254.51" width="0.8" height="0.8" fill="#7a7a7a" stroke="none" stroke-width="0"/>
<rect x="247.53" y="250.35" width="0.8" height="0.8" fill="#7a7a7a" stroke="none" stroke-width="0"/>
<rect x="253.29" y="246.16" width="0.8" height="0.8" fill="#7a7a7a" stroke="none" stroke-width="0"/>
<rect x="256.08" y="254.05" width="0.8" height="0.8" fill="#7a7a7a" stroke="none" stroke-width="0"/>
<rect x="260.64" y="250.86" width="0.8" height="0.8" fill="#7a7a7a" stroke="none" stroke-width="0"/>
<rect x="252.73" y="246.82" width="0.8" height="0.8" fill="#7a7a7a" stroke="none" stroke-width="0"/>
<line x1="36.4" y1="245.3" x2="36.4" y2="274" stroke="#111" stroke-width="1.3"/>
<line x1="35.75" y1="274" x2="70.4" y2="274" stroke="#111" stroke-width="1.3"/>
<path d="M36.4 242.3 L34.1 246.8 L38.7 246.8 Z" fill="#111"/>
<path d="M73.4 274 L68.4 271.8 L68.4 276.2 Z" fill="#111"/>
<line x1="97" y1="245.3" x2="97" y2="272.2" stroke="#111" stroke-width="1.3"/>
<line x1="96.35" y1="272.2" x2="130.6" y2="272.2" stroke="#111" stroke-width="1.3"/>
<path d="M97 242.3 L94.7 246.8 L99.3 246.8 Z" fill="#111"/>
<path d="M133.6 272.2 L128.6 270 L128.6 274.4 Z" fill="#111"/>
<line x1="160.8" y1="245.6" x2="160.8" y2="272.2" stroke="#111" stroke-width="1.3"/>
<line x1="160.15" y1="272.2" x2="195.2" y2="272.2" stroke="#111" stroke-width="1.3"/>
<path d="M160.8 242.6 L158.5 247.1 L163.1 247.1 Z" fill="#111"/>
<path d="M198.2 272.2 L193.2 270 L193.2 274.4 Z" fill="#111"/>
<line x1="220.2" y1="244" x2="220.2" y2="272.3" stroke="#111" stroke-width="1.3"/>
<line x1="219.55" y1="272.3" x2="254.4" y2="272.3" stroke="#111" stroke-width="1.3"/>
<path d="M257.4 272.3 L252.4 270.1 L252.4 274.5 Z" fill="#111"/>
<circle cx="220.2" cy="243.9" r="2.2" fill="#111"/>
<text x="40.4" y="224.5" font-size="9.3" text-anchor="middle" fill="#161616" transform="rotate(-90 40.4 224.5)">IgG2</text>
<text x="100.5" y="222.5" font-size="9.1" text-anchor="middle" fill="#161616" transform="rotate(-90 100.5 222.5)">EPOR</text>
<text x="164.2" y="224" font-size="9.3" text-anchor="middle" fill="#161616" transform="rotate(-90 164.2 224)">IgG2</text>
<text x="224.6" y="222.5" font-size="9.1" text-anchor="middle" fill="#161616" transform="rotate(-90 224.6 222.5)">EPOR</text>
<text x="65.5" y="284" font-size="9" text-anchor="middle" fill="#161616">IgG1</text>
<text x="124.5" y="284" font-size="9.3" text-anchor="middle" fill="#161616">GPA</text>
<text x="193" y="284" font-size="9" text-anchor="middle" fill="#161616">IgG1</text>
<text x="247.1" y="283.8" font-size="9.3" text-anchor="middle" fill="#161616">GPA</text>
<text x="292.4" y="168.6" font-size="12" text-anchor="start" font-weight="bold" fill="#161616">D</text>
<line x1="352.4" y1="184.6" x2="352.4" y2="249.5" stroke="#111" stroke-width="1.25"/>
<line x1="351.9" y1="249" x2="426.3" y2="249" stroke="#111" stroke-width="1.25"/>
<clipPath id="cpD"><rect x="330" y="180" width="15.9" height="80"/></clipPath>
<text x="346.8" y="252.3" font-size="7.4" text-anchor="end" fill="#161616" class="t" clip-path="url(#cpD)">0</text>
<text x="346.8" y="243.66" font-size="7.4" text-anchor="end" fill="#161616" class="t" clip-path="url(#cpD)">20</text>
<text x="346.8" y="235.02" font-size="7.4" text-anchor="end" fill="#161616" class="t" clip-path="url(#cpD)">40</text>
<text x="346.8" y="226.37" font-size="7.4" text-anchor="end" fill="#161616" class="t" clip-path="url(#cpD)">60</text>
<text x="346.8" y="217.73" font-size="7.4" text-anchor="end" fill="#161616" class="t" clip-path="url(#cpD)">80</text>
<text x="347.1" y="209.09" font-size="7.2" text-anchor="end" fill="#161616" class="t">100</text>
<text x="347.1" y="200.45" font-size="7.2" text-anchor="end" fill="#161616" class="t">120</text>
<text x="347.1" y="191.81" font-size="7.2" text-anchor="end" fill="#161616" class="t">140</text>
<text x="328.7" y="255.4" font-size="9.2" fill="#161616" transform="rotate(-90 328.7 255.4)"><tspan font-size="5.4" dy="-3.0">125</tspan><tspan dy="3.0">I-EPO binding (cpm)</tspan></text>
<rect x="357" y="230.27" width="7.4" height="18.73" fill="#fff" stroke="#111" stroke-width="1"/>
<line x1="360.7" y1="229.77" x2="360.7" y2="227.3" stroke="#111" stroke-width="1"/>
<line x1="358.7" y1="227.3" x2="362.7" y2="227.3" stroke="#111" stroke-width="1"/>
<rect x="365.4" y="220.55" width="7.4" height="28.45" fill="#111" stroke="#111" stroke-width="1"/>
<line x1="369.1" y1="220.05" x2="369.1" y2="201.2" stroke="#111" stroke-width="1"/>
<line x1="366.6" y1="201.2" x2="371.6" y2="201.2" stroke="#111" stroke-width="1"/>
<rect x="381.4" y="215.58" width="7.4" height="33.42" fill="#fff" stroke="#111" stroke-width="1"/>
<line x1="385.1" y1="215.08" x2="385.1" y2="193.5" stroke="#111" stroke-width="1"/>
<line x1="382.6" y1="193.5" x2="387.6" y2="193.5" stroke="#111" stroke-width="1"/>
<rect x="389.8" y="243.23" width="7.4" height="5.77" fill="#111" stroke="#111" stroke-width="1"/>
<line x1="393.5" y1="242.73" x2="393.5" y2="235.6" stroke="#111" stroke-width="1"/>
<line x1="391" y1="235.6" x2="396" y2="235.6" stroke="#111" stroke-width="1"/>
<rect x="405.9" y="208.67" width="7.4" height="40.33" fill="#fff" stroke="#111" stroke-width="1"/>
<line x1="409.6" y1="208.17" x2="409.6" y2="191.2" stroke="#111" stroke-width="1"/>
<line x1="407.1" y1="191.2" x2="412.1" y2="191.2" stroke="#111" stroke-width="1"/>
<rect x="414.3" y="244.31" width="7.4" height="4.69" fill="#111" stroke="#111" stroke-width="1"/>
<line x1="418" y1="243.81" x2="418" y2="240.2" stroke="#111" stroke-width="1"/>
<line x1="415.5" y1="240.2" x2="420.5" y2="240.2" stroke="#111" stroke-width="1"/>
<polyline points="359.6,227 359.6,174.6 370.3,174.6 370.3,195" stroke="#8a8a8a" stroke-width="0.8" fill="none"/>
<polyline points="383.6,189.2 383.6,174.6 393,174.6 393,235" stroke="#8a8a8a" stroke-width="0.8" fill="none"/>
<polyline points="410,188.5 410,174.6 419.2,174.6 419.2,239.5" stroke="#8a8a8a" stroke-width="0.8" fill="none"/>
<text x="365.1" y="172.3" font-size="6.6" text-anchor="middle" fill="#161616" class="t">NS</text>
<text x="388.2" y="172.3" font-size="6.6" text-anchor="middle" fill="#161616" class="t">NS</text>
<text x="414.4" y="174.45" font-size="7" text-anchor="middle" fill="#161616">*</text>
<text x="364" y="260.2" font-size="8.3" text-anchor="middle" fill="#161616">Day5</text>
<text x="389.3" y="260.2" font-size="8.3" text-anchor="middle" fill="#161616">Day6</text>
<text x="414.5" y="260.2" font-size="8.3" text-anchor="middle" fill="#161616">Day7</text>
<rect x="444.7" y="195.3" width="7" height="7.2" fill="#fff" stroke="#111" stroke-width="1"/>
<text x="458.5" y="202" font-size="9.1" text-anchor="start" fill="#161616">Control</text>
<rect x="444.7" y="207.7" width="7" height="6.4" fill="#111" stroke="#111" stroke-width="1"/>
<text x="458.5" y="214.3" font-size="9.1" text-anchor="start" fill="#161616">2006-PO</text>
<text x="0.6" y="308.3" font-size="12" text-anchor="start" font-weight="bold" fill="#161616">E</text>
<line x1="58.9" y1="311" x2="58.9" y2="379" stroke="#111" stroke-width="1.25"/>
<line x1="58.4" y1="378.5" x2="143.8" y2="378.5" stroke="#111" stroke-width="1.25"/>
<line x1="58.9" y1="378.5" x2="62" y2="378.5" stroke="#111" stroke-width="1"/>
<text x="52" y="381.6" font-size="8.8" text-anchor="end" fill="#161616" class="t">0</text>
<line x1="58.9" y1="356.15" x2="62" y2="356.15" stroke="#111" stroke-width="1"/>
<text x="52" y="359.25" font-size="8.8" text-anchor="end" fill="#161616" class="t">1</text>
<line x1="58.9" y1="333.8" x2="62" y2="333.8" stroke="#111" stroke-width="1"/>
<text x="52" y="336.9" font-size="8.8" text-anchor="end" fill="#161616" class="t">2</text>
<line x1="58.9" y1="311.45" x2="62" y2="311.45" stroke="#111" stroke-width="1"/>
<text x="52" y="314.55" font-size="8.8" text-anchor="end" fill="#161616" class="t">3</text>
<text x="38.2" y="341.2" font-size="7.8" text-anchor="middle" font-weight="bold" fill="#161616" transform="rotate(-90 38.2 341.2)">Relative expression</text>
<rect x="63.6" y="376.9" width="11" height="1.6" fill="#555" stroke="#222" stroke-width="0.7" rx="0.8"/>
<rect x="85" y="365.59" width="10.1" height="12.91" fill="#dcdcdc" stroke="#111" stroke-width="1"/>
<line x1="90.3" y1="365.09" x2="90.3" y2="363.2" stroke="#111" stroke-width="1"/>
<line x1="87.8" y1="363.2" x2="92.8" y2="363.2" stroke="#111" stroke-width="1"/>
<rect x="106.4" y="356.65" width="9.4" height="21.85" fill="#8c8c8c" stroke="#111" stroke-width="1"/>
<rect x="127.2" y="344.36" width="10.3" height="34.14" fill="#111" stroke="#111" stroke-width="1"/>
<line x1="132.3" y1="343.86" x2="132.3" y2="322.8" stroke="#111" stroke-width="1"/>
<line x1="129.8" y1="322.8" x2="134.8" y2="322.8" stroke="#111" stroke-width="1"/>
<polyline points="111.2,355.5 115,310.2 132.2,310.2 132.2,321.5" stroke="#8a8a8a" stroke-width="0.8" fill="none"/>
<text x="123.5" y="304.6" font-size="6.6" text-anchor="middle" fill="#161616" class="t">NS</text>
<text x="105.9" y="392.6" font-size="9.1" text-anchor="middle" fill="#161616">EKLF mRNA</text>
<rect x="153" y="328.6" width="7.6" height="7.3" fill="#fff" stroke="#444" stroke-width="1"/>
<rect x="153" y="341.1" width="7.6" height="6.9" fill="#e2e2e2" stroke="#444" stroke-width="1"/>
<rect x="153" y="354.7" width="7.6" height="6.9" fill="#a4a4a4" stroke="#444" stroke-width="1"/>
<rect x="153" y="369" width="7.6" height="6.9" fill="#111" stroke="#444" stroke-width="1"/>
<text x="165.8" y="334.4" font-size="7.7" text-anchor="start" fill="#161616">Day 0 CD34+</text>
<text x="165.8" y="347.1" font-size="7.7" text-anchor="start" fill="#161616">Day 3 CD71+</text>
<text x="165.8" y="361" font-size="7.7" text-anchor="start" fill="#161616">Day 3 CD71+ (12h)</text>
<text x="165.8" y="373.9" font-size="7.7" text-anchor="start" fill="#161616">Day 3 CD71+</text>
<text x="170.4" y="384.8" font-size="7.7" text-anchor="start" fill="#161616">+ 2006-PO (12 h)</text>
<text x="232.6" y="307.5" font-size="12" text-anchor="start" font-weight="bold" fill="#161616">F</text>
<text x="307.3" y="316.6" font-size="9.1" text-anchor="middle" fill="#161616">Control</text>
<text x="353.9" y="316.6" font-size="9.1" text-anchor="middle" fill="#161616">2006-PO</text>
<text x="282.5" y="339.1" font-size="9.1" text-anchor="end" fill="#161616">EKLF</text>
<text x="281.6" y="370.9" font-size="9.1" text-anchor="end" fill="#161616">Tubulin</text>
<defs>
<linearGradient id="blotbg" x1="0" y1="0" x2="1" y2="0">
<stop offset="0" stop-color="#ececec"/><stop offset="0.5" stop-color="#f3f3f3"/><stop offset="1" stop-color="#f0f0f0"/>
</linearGradient>
<filter id="bl1" x="-30%" y="-80%" width="160%" height="260%"><feGaussianBlur stdDeviation="0.9"/></filter>
<filter id="bl2" x="-30%" y="-80%" width="160%" height="260%"><feGaussianBlur stdDeviation="0.6"/></filter>
</defs>
<rect x="286.6" y="321.8" width="88.6" height="27.6" fill="url(#blotbg)" stroke="none" stroke-width="0"/>
<rect x="286.6" y="354.8" width="88.6" height="27.6" fill="url(#blotbg)" stroke="none" stroke-width="0"/>
<g filter="url(#bl1)"><ellipse cx="303.4" cy="336.0" rx="7.2" ry="2.4" fill="#0c0c0c"/><ellipse cx="312.5" cy="336.2" rx="4.2" ry="1.6" fill="#6a6a6a"/><ellipse cx="317.6" cy="336.2" rx="2.3" ry="1.4" fill="#8c8c8c"/><rect x="343" y="335" width="21.5" height="2.2" rx="1.1" fill="#c4c4c4"/><ellipse cx="345.6" cy="336.1" rx="2.6" ry="1.3" fill="#a0a0a0"/><ellipse cx="354.4" cy="336.1" rx="3.2" ry="1.3" fill="#9a9a9a"/><ellipse cx="362.6" cy="336.0" rx="2.4" ry="1.4" fill="#8a8a8a"/></g>
<g filter="url(#bl2)" fill="none" stroke-linecap="round"><path d="M297.4 369.3 Q302 368.8 306.5 370.4 Q311.5 371.8 316.4 369.0" stroke="#0e0e0e" stroke-width="5.0"/><path d="M342.6 368.8 Q345.5 366.8 349 367.3 Q353 369.2 356 369.3 Q359.5 369.0 362.4 367.6" stroke="#111" stroke-width="4.3"/></g>
<text x="382" y="299.1" font-size="12" text-anchor="start" font-weight="bold" fill="#161616">G</text>
<line x1="427.2" y1="311" x2="427.2" y2="372.4" stroke="#111" stroke-width="1.25"/>
<line x1="426.7" y1="371.9" x2="492" y2="371.9" stroke="#111" stroke-width="1.25"/>
<line x1="424.4" y1="371.9" x2="427.2" y2="371.9" stroke="#111" stroke-width="1"/>
<text x="423.4" y="374.3" font-size="6.8" text-anchor="end" fill="#161616" class="t">0</text>
<line x1="424.4" y1="361.78" x2="427.2" y2="361.78" stroke="#111" stroke-width="1"/>
<text x="423.4" y="364.18" font-size="6.8" text-anchor="end" fill="#161616" class="t">0.2</text>
<line x1="424.4" y1="351.66" x2="427.2" y2="351.66" stroke="#111" stroke-width="1"/>
<text x="423.4" y="354.06" font-size="6.8" text-anchor="end" fill="#161616" class="t">0.4</text>
<line x1="424.4" y1="341.54" x2="427.2" y2="341.54" stroke="#111" stroke-width="1"/>
<text x="423.4" y="343.94" font-size="6.8" text-anchor="end" fill="#161616" class="t">0.6</text>
<line x1="424.4" y1="331.42" x2="427.2" y2="331.42" stroke="#111" stroke-width="1"/>
<text x="423.4" y="333.82" font-size="6.8" text-anchor="end" fill="#161616" class="t">0.8</text>
<line x1="424.4" y1="321.3" x2="427.2" y2="321.3" stroke="#111" stroke-width="1"/>
<text x="423.4" y="323.7" font-size="6.8" text-anchor="end" fill="#161616" class="t">1</text>
<line x1="424.4" y1="311.18" x2="427.2" y2="311.18" stroke="#111" stroke-width="1"/>
<text x="423.4" y="313.58" font-size="6.8" text-anchor="end" fill="#161616" class="t">1.2</text>
<text x="408.8" y="333.8" font-size="9.2" text-anchor="middle" fill="#161616" transform="rotate(-90 408.8 333.8)">Relative expression</text>
<rect x="441.5" y="321.8" width="17.6" height="50.1" fill="#fff" stroke="#111" stroke-width="1"/>
<rect x="460.1" y="351.15" width="18.3" height="20.75" fill="#111" stroke="#111" stroke-width="1"/>
<line x1="468.6" y1="350.65" x2="468.6" y2="344.58" stroke="#111" stroke-width="1"/>
<line x1="466.1" y1="344.58" x2="471.1" y2="344.58" stroke="#111" stroke-width="1"/>
<polyline points="449.8,314.7 449.8,304.2 468.3,304.2 468.3,337.5" stroke="#8a8a8a" stroke-width="0.8" fill="none"/>
<text x="461" y="305.2" font-size="9" text-anchor="middle" fill="#161616">***</text>
<text x="461.5" y="390.4" font-size="9.2" text-anchor="middle" fill="#161616">EKLF/Tubulin</text>
<rect x="468.8" y="268.1" width="7.3" height="7.4" fill="#fff" stroke="#111" stroke-width="1"/>
<text x="481.9" y="275" font-size="9" text-anchor="start" fill="#161616">Control</text>
<rect x="468.8" y="280.2" width="7.3" height="6.9" fill="#111" stroke="#111" stroke-width="1"/>
<text x="481.9" y="286.8" font-size="9" text-anchor="start" fill="#161616">2006-PO</text>
</g>
</svg>
</body></html>
